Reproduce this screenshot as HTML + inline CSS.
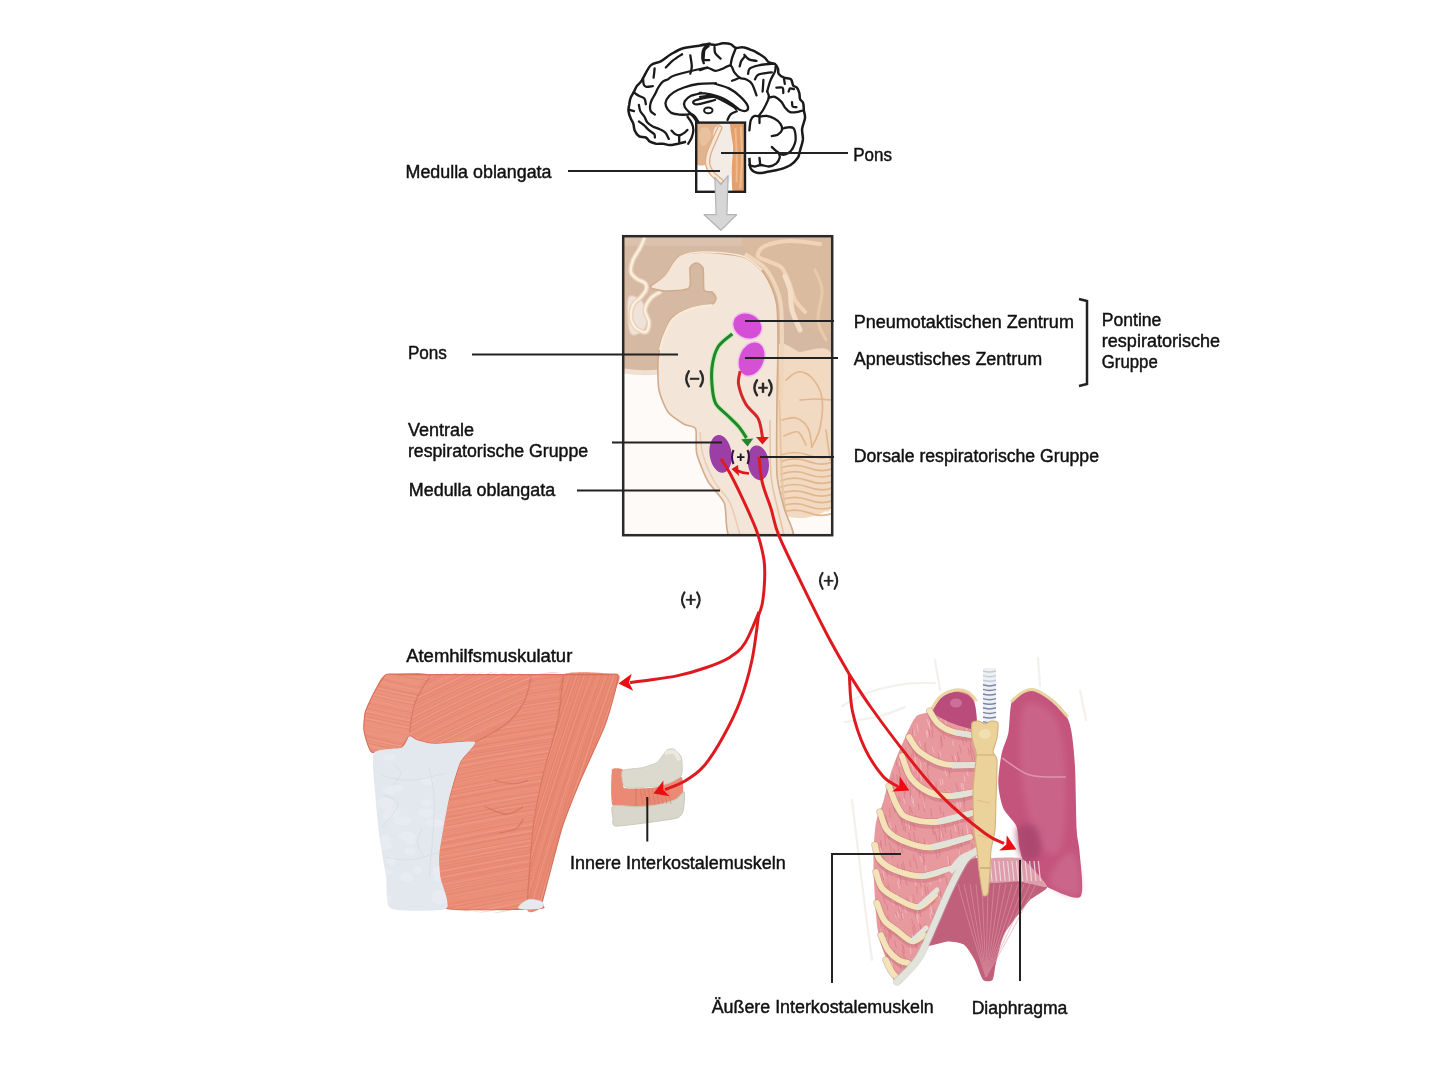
<!DOCTYPE html>
<html><head><meta charset="utf-8">
<style>
html,body{margin:0;padding:0;background:#fff;width:1440px;height:1080px;overflow:hidden}
svg{position:absolute;left:0;top:0;will-change:transform}
text{font-family:"Liberation Sans",sans-serif;fill:#111;stroke:#111;stroke-width:0.45px}
</style></head><body>
<svg width="1440" height="1080" viewBox="0 0 1440 1080">
<path d="M686.1 141.7 C684.7 142.0 680.6 143.2 677.8 143.8 C675.0 144.3 671.9 145.1 669.4 145.1 C667.0 145.1 665.4 144.0 663.2 143.8 C661.0 143.5 658.4 144.1 656.2 143.8 C654.1 143.4 651.7 142.7 650.0 141.7 C648.3 140.6 647.7 138.4 645.8 137.5 C644.0 136.6 640.7 137.3 638.9 136.1 C637.0 135.0 635.6 132.6 634.7 130.6 C633.8 128.5 634.0 125.7 633.3 123.6 C632.6 121.5 631.4 120.1 630.6 118.1 C629.7 116.0 628.7 113.3 628.5 111.1 C628.2 108.9 628.8 107.1 629.2 104.9 C629.5 102.7 629.7 100.1 630.6 97.9 C631.4 95.7 633.0 93.6 634.0 91.7 C635.1 89.7 635.5 88.0 636.8 86.1 C638.1 84.3 639.4 84.0 641.7 80.6 C644.0 77.1 647.4 68.7 650.5 65.5 C653.7 62.3 657.3 63.3 660.7 61.4 C664.1 59.6 667.2 56.5 670.9 54.3 C674.7 52.1 678.7 49.5 683.1 48.2 C687.5 46.8 693.0 46.9 697.4 46.1 C701.8 45.4 709.2 43.7 709.6 43.6 C710.0 43.5 700.3 45.6 700.0 45.6 C699.7 45.7 705.1 44.2 707.6 44.1 C710.2 44.0 712.7 45.0 715.3 44.9 C717.8 44.7 720.4 43.5 722.9 43.3 C725.5 43.2 728.4 43.3 730.6 44.1 C732.7 44.9 733.9 47.4 735.9 47.9 C737.9 48.4 740.1 46.8 742.8 47.2 C745.5 47.5 749.4 49.2 751.9 50.2 C754.5 51.2 755.9 52.0 758.1 53.3 C760.2 54.6 763.2 56.3 764.9 57.9 C766.7 59.4 767.1 61.4 768.8 62.4 C770.4 63.5 773.3 63.0 774.9 64.0 C776.4 65.0 777.3 66.9 777.9 68.6 C778.6 70.2 777.7 72.4 778.7 73.9 C779.7 75.4 782.0 76.8 784.0 77.7 C786.1 78.6 789.4 78.0 790.9 79.3 C792.4 80.5 792.2 84.0 793.2 85.4 C794.2 86.8 796.0 86.4 797.0 87.7 C798.0 88.9 798.8 91.1 799.3 93.0 C799.8 94.9 799.4 97.5 800.1 99.1 C800.7 100.8 802.5 101.0 803.1 102.9 C803.8 104.8 803.6 108.1 803.9 110.6 C804.2 113.1 805.3 115.0 805.0 118.1 C804.7 121.1 802.5 125.3 802.1 128.9 C801.8 132.5 803.2 136.1 802.9 139.7 C802.5 143.4 800.8 147.6 800.0 150.6 C799.1 153.6 799.4 155.4 797.8 157.8 C796.2 160.2 793.6 163.1 790.6 165.0 C787.6 167.0 783.4 168.3 779.7 169.4 C776.1 170.4 772.5 170.9 768.9 171.5 C765.3 172.1 761.1 173.5 758.1 173.0 C755.1 172.5 752.3 171.2 750.8 168.6 C749.4 166.1 749.6 159.6 749.4 157.8" fill="#fff" stroke="#1a1a1a" stroke-width="2.5" stroke-linejoin="round"/>
<path d="M643.1 79.2 C643.2 80.1 643.2 83.4 643.8 84.7 C644.3 86.0 645.0 86.6 646.5 86.8 C648.0 87.0 651.7 86.2 652.8 86.1" fill="none" stroke="#1a1a1a" stroke-width="2.3" stroke-linecap="round" stroke-linejoin="round"/>
<path d="M634.7 93.1 C635.4 93.5 637.3 94.9 638.9 95.8 C640.5 96.8 643.3 97.2 644.4 98.6 C645.6 100.0 645.6 103.2 645.8 104.2" fill="none" stroke="#1a1a1a" stroke-width="2.3" stroke-linecap="round" stroke-linejoin="round"/>
<path d="M629.2 109.7 C630.0 110.0 633.2 110.9 634.0 111.1" fill="none" stroke="#1a1a1a" stroke-width="2.3" stroke-linecap="round" stroke-linejoin="round"/>
<path d="M638.9 104.9 C639.1 105.9 639.4 109.1 640.3 111.1 C641.2 113.1 643.3 114.8 644.4 116.7 C645.6 118.5 645.8 120.6 647.2 122.2 C648.6 123.8 650.7 125.2 652.8 126.4 C654.9 127.5 657.6 128.1 659.7 129.2 C661.8 130.2 663.8 131.0 665.3 132.6 C666.8 134.3 668.2 137.8 668.8 138.9" fill="none" stroke="#1a1a1a" stroke-width="2.3" stroke-linecap="round" stroke-linejoin="round"/>
<path d="M638.9 121.5 C639.7 122.1 642.1 123.6 643.8 125.0 C645.4 126.4 646.9 128.4 648.6 129.9 C650.3 131.4 653.1 132.8 654.2 134.0 C655.2 135.3 654.7 136.9 654.9 137.5" fill="none" stroke="#1a1a1a" stroke-width="2.3" stroke-linecap="round" stroke-linejoin="round"/>
<path d="M697.2 123.6 C696.8 122.7 695.6 119.7 694.4 118.1 C693.3 116.4 691.4 114.5 690.3 113.9 C689.1 113.3 689.4 114.5 687.5 114.6 C685.6 114.7 681.9 114.9 679.2 114.6 C676.4 114.2 673.0 113.9 670.8 112.5 C668.6 111.1 666.7 108.4 666.0 106.2 C665.3 104.1 665.4 101.6 666.7 99.3 C667.9 97.0 670.7 94.3 673.6 92.4 C676.5 90.4 680.0 88.9 684.0 87.5 C688.1 86.1 692.8 84.7 697.9 84.0 C703.1 83.3 712.1 83.4 715.0 83.3 C717.9 83.3 712.9 83.0 715.3 83.8 C717.6 84.7 725.0 86.4 729.0 88.4 C733.1 90.5 736.7 93.3 739.7 96.1 C742.8 98.9 746.2 102.8 747.4 105.2 C748.5 107.6 747.9 109.8 746.6 110.6 C745.3 111.3 742.0 110.8 739.7 109.8 C737.4 108.8 735.7 106.4 732.8 104.5 C730.0 102.6 726.5 100.0 722.9 98.4 C719.4 96.7 715.3 95.4 711.5 94.5 C707.6 93.6 701.7 93.2 700.0 93.0 C698.3 92.8 702.9 92.6 701.4 93.1 C699.9 93.5 693.8 94.4 691.0 95.8 C688.2 97.2 685.8 99.5 684.7 101.4 C683.7 103.2 683.9 105.1 684.7 106.9 C685.5 108.8 688.0 111.0 689.6 112.5 C691.2 114.0 692.9 114.4 694.4 116.0 C695.9 117.6 697.9 121.2 698.6 122.2" fill="none" stroke="#1a1a1a" stroke-width="2.3" stroke-linecap="round" stroke-linejoin="round"/>
<path d="M715.0 96.5 C713.3 96.8 708.3 97.2 704.9 97.9 C701.4 98.6 696.3 99.8 694.4 100.7 C692.6 101.6 693.1 102.9 693.8 103.5 C694.4 104.1 695.1 104.7 698.6 104.2 C702.2 103.6 712.3 100.7 715.0 100.0" fill="none" stroke="#1a1a1a" stroke-width="2.3" stroke-linecap="round" stroke-linejoin="round"/>
<path d="M700.0 96.8 C701.9 96.7 707.6 95.4 711.5 96.1 C715.3 96.7 719.2 98.9 722.9 100.6 C726.6 102.4 731.4 105.4 733.6 106.8 C735.8 108.2 735.5 108.7 735.9 109.0" fill="none" stroke="#1a1a1a" stroke-width="2.3" stroke-linecap="round" stroke-linejoin="round"/>
<path d="M687.5 116.7 C688.2 117.7 690.7 120.7 691.7 122.9 C692.7 125.1 693.4 127.4 693.4 129.9 C693.4 132.3 692.5 135.2 691.7 137.5 C690.8 139.8 688.8 142.7 688.2 143.8" fill="none" stroke="#1a1a1a" stroke-width="2.3" stroke-linecap="round" stroke-linejoin="round"/>
<path d="M671.5 130.6 C672.1 131.1 673.7 133.2 675.0 134.0 C676.3 134.8 677.5 135.6 679.2 135.4 C680.8 135.2 683.3 133.6 684.7 132.6 C686.1 131.7 687.0 130.3 687.5 129.9" fill="none" stroke="#1a1a1a" stroke-width="2.3" stroke-linecap="round" stroke-linejoin="round"/>
<path d="M679.2 135.4 C679.2 136.5 679.2 140.6 679.2 141.7" fill="none" stroke="#1a1a1a" stroke-width="2.3" stroke-linecap="round" stroke-linejoin="round"/>
<path d="M665.8 67.5 C667.0 66.3 670.2 62.6 673.0 60.4 C675.7 58.2 680.6 55.3 682.1 54.3" fill="none" stroke="#1a1a1a" stroke-width="2.3" stroke-linecap="round" stroke-linejoin="round"/>
<path d="M690.3 55.3 C690.5 57.2 691.8 63.5 691.8 66.5 C691.8 69.6 690.5 72.5 690.3 73.6" fill="none" stroke="#1a1a1a" stroke-width="2.3" stroke-linecap="round" stroke-linejoin="round"/>
<path d="M703.5 60.4 C703.7 58.7 703.7 52.6 704.5 50.2 C705.4 47.8 707.9 46.8 708.6 46.1" fill="none" stroke="#1a1a1a" stroke-width="2.3" stroke-linecap="round" stroke-linejoin="round"/>
<path d="M653.6 77.7 C653.8 76.2 654.5 70.1 654.6 68.5" fill="none" stroke="#1a1a1a" stroke-width="2.3" stroke-linecap="round" stroke-linejoin="round"/>
<path d="M654.9 114.6 C654.2 114.0 651.5 112.5 650.7 111.1 C649.9 109.7 649.9 108.0 650.0 106.2 C650.1 104.5 650.6 102.7 651.4 100.7 C652.2 98.7 653.7 96.6 654.9 94.4 C656.0 92.2 657.1 89.6 658.3 87.5 C659.6 85.4 660.9 83.3 662.5 81.9 C664.1 80.6 665.9 80.3 668.1 79.2 C670.3 78.0 669.3 76.9 675.7 75.0 C682.1 73.1 702.5 68.4 706.6 67.5 C710.6 66.7 699.8 70.0 700.0 70.1 C700.2 70.1 705.1 67.7 707.6 67.8 C710.2 67.9 712.7 70.7 715.3 70.8 C717.8 71.0 720.4 69.4 722.9 68.6 C725.5 67.7 728.6 64.9 730.6 65.5 C732.5 66.1 732.8 70.3 734.4 72.4 C735.9 74.4 737.8 76.6 739.7 77.7 C741.6 78.9 743.8 78.2 745.8 79.3 C747.9 80.3 750.2 81.2 751.9 83.8 C753.7 86.5 755.8 93.4 756.5 95.3" fill="none" stroke="#1a1a1a" stroke-width="2.3" stroke-linecap="round" stroke-linejoin="round"/>
<path d="M707.6 44.1 C706.9 45.1 703.9 47.9 703.1 50.2 C702.2 52.5 702.2 55.7 702.3 57.9 C702.4 60.0 703.6 62.3 703.8 63.2" fill="none" stroke="#1a1a1a" stroke-width="2.3" stroke-linecap="round" stroke-linejoin="round"/>
<path d="M704.6 60.2 C705.3 60.2 708.4 60.2 709.2 60.2" fill="none" stroke="#1a1a1a" stroke-width="2.3" stroke-linecap="round" stroke-linejoin="round"/>
<path d="M714.5 47.2 C714.6 48.2 714.3 51.4 715.3 53.3 C716.3 55.2 719.7 57.7 720.6 58.6" fill="none" stroke="#1a1a1a" stroke-width="2.3" stroke-linecap="round" stroke-linejoin="round"/>
<path d="M730.6 65.5 C730.8 64.2 731.2 60.8 732.1 57.9 C733.0 54.9 735.3 49.6 735.9 47.9" fill="none" stroke="#1a1a1a" stroke-width="2.3" stroke-linecap="round" stroke-linejoin="round"/>
<path d="M739.7 77.7 C738.5 78.2 733.4 80.3 732.1 80.8" fill="none" stroke="#1a1a1a" stroke-width="2.3" stroke-linecap="round" stroke-linejoin="round"/>
<path d="M739.7 66.3 C740.0 65.4 740.5 62.4 741.3 60.9 C742.0 59.4 743.8 57.7 744.3 57.1" fill="none" stroke="#1a1a1a" stroke-width="2.3" stroke-linecap="round" stroke-linejoin="round"/>
<path d="M744.3 54.8 C745.1 55.6 746.9 58.4 748.9 59.4 C750.9 60.4 755.3 60.7 756.5 60.9" fill="none" stroke="#1a1a1a" stroke-width="2.3" stroke-linecap="round" stroke-linejoin="round"/>
<path d="M748.1 73.9 C748.4 73.0 748.0 70.0 749.7 68.6 C751.3 67.2 754.9 66.3 758.1 65.5 C761.2 64.7 766.0 64.2 768.8 64.0 C771.6 63.7 773.8 64.0 774.9 64.0" fill="none" stroke="#1a1a1a" stroke-width="2.3" stroke-linecap="round" stroke-linejoin="round"/>
<path d="M755.0 79.3 C755.5 78.5 756.3 75.7 758.1 74.7 C759.8 73.7 763.4 73.5 765.7 73.1 C768.0 72.8 770.8 72.5 771.8 72.4" fill="none" stroke="#1a1a1a" stroke-width="2.3" stroke-linecap="round" stroke-linejoin="round"/>
<path d="M763.4 80.0 C763.3 81.9 762.8 89.6 762.6 91.5" fill="none" stroke="#1a1a1a" stroke-width="2.3" stroke-linecap="round" stroke-linejoin="round"/>
<path d="M767.2 91.5 C767.7 89.7 769.0 84.1 770.3 80.8 C771.6 77.5 774.0 73.9 774.9 71.6 C775.8 69.3 775.5 67.8 775.6 67.0" fill="none" stroke="#1a1a1a" stroke-width="2.3" stroke-linecap="round" stroke-linejoin="round"/>
<path d="M767.2 91.5 C767.5 92.5 769.3 94.7 768.8 97.6 C768.2 100.5 765.5 105.6 763.8 108.7 C762.2 111.7 759.6 114.7 758.8 115.9" fill="none" stroke="#1a1a1a" stroke-width="2.3" stroke-linecap="round" stroke-linejoin="round"/>
<path d="M768.8 97.6 C769.8 97.5 772.8 96.2 774.9 96.8 C776.9 97.5 779.2 99.5 781.0 101.4 C782.8 103.3 784.0 106.5 785.6 108.3 C787.1 110.1 788.4 111.5 790.1 112.1 C791.9 112.7 794.2 112.4 796.3 112.1 C798.3 111.8 801.3 110.8 802.4 110.6" fill="none" stroke="#1a1a1a" stroke-width="2.3" stroke-linecap="round" stroke-linejoin="round"/>
<path d="M776.4 87.7 C777.4 87.7 781.4 86.8 782.5 87.7 C783.7 88.5 783.1 92.1 783.3 93.0" fill="none" stroke="#1a1a1a" stroke-width="2.3" stroke-linecap="round" stroke-linejoin="round"/>
<path d="M784.0 79.3 C784.2 80.0 784.7 83.1 784.8 83.8" fill="none" stroke="#1a1a1a" stroke-width="2.3" stroke-linecap="round" stroke-linejoin="round"/>
<path d="M788.6 91.5 C788.9 91.0 789.3 88.8 790.1 88.4 C791.0 88.0 793.3 89.1 794.0 89.2" fill="none" stroke="#1a1a1a" stroke-width="2.3" stroke-linecap="round" stroke-linejoin="round"/>
<path d="M792.0 102.2 C792.1 102.9 792.0 105.7 792.7 106.5 C793.5 107.3 795.8 107.1 796.4 107.2" fill="none" stroke="#1a1a1a" stroke-width="2.3" stroke-linecap="round" stroke-linejoin="round"/>
<path d="M727.5 120.0 C728.0 119.0 729.0 115.8 730.6 114.4 C732.1 113.0 735.7 111.8 736.7 111.3" fill="none" stroke="#1a1a1a" stroke-width="2.3" stroke-linecap="round" stroke-linejoin="round"/>
<path d="M749.4 130.3 C749.6 128.7 750.0 122.6 750.8 120.2 C751.7 117.8 752.9 116.5 754.5 115.9 C756.0 115.3 758.2 116.6 760.2 116.6 C762.3 116.6 764.3 115.5 766.7 115.9 C769.1 116.3 772.4 117.5 774.7 118.8 C777.0 120.1 779.3 121.9 780.5 123.8 C781.7 125.8 782.4 128.5 781.9 130.3 C781.4 132.2 779.3 133.7 777.6 134.7 C775.9 135.6 772.8 135.9 771.8 136.1" fill="none" stroke="#1a1a1a" stroke-width="2.3" stroke-linecap="round" stroke-linejoin="round"/>
<path d="M759.5 115.9 C759.5 117.1 759.5 121.9 759.5 123.1" fill="none" stroke="#1a1a1a" stroke-width="2.3" stroke-linecap="round" stroke-linejoin="round"/>
<path d="M781.9 128.9 C782.8 128.7 785.0 127.6 787.0 127.5 C788.9 127.3 792.0 126.7 793.5 128.2 C794.9 129.6 795.4 133.6 795.6 136.1 C795.9 138.7 795.8 140.8 794.9 143.4 C794.1 145.9 792.5 149.4 790.6 151.3 C788.7 153.2 785.5 154.8 783.4 154.9 C781.2 155.0 779.5 153.3 777.6 152.0 C775.6 150.7 772.8 147.8 771.8 147.0" fill="none" stroke="#1a1a1a" stroke-width="2.3" stroke-linecap="round" stroke-linejoin="round"/>
<path d="M749.4 165.0 C750.2 165.3 752.5 166.5 754.5 166.5 C756.4 166.5 758.5 165.0 761.0 165.0 C763.4 165.0 766.4 166.7 768.9 166.5 C771.4 166.2 774.3 165.0 776.1 163.6 C777.9 162.1 779.3 159.5 779.7 157.8 C780.2 156.1 779.1 154.2 779.0 153.5" fill="none" stroke="#1a1a1a" stroke-width="2.3" stroke-linecap="round" stroke-linejoin="round"/>
<path d="M759.5 157.8 C759.6 159.0 760.1 163.8 760.2 165.0" fill="none" stroke="#1a1a1a" stroke-width="2.3" stroke-linecap="round" stroke-linejoin="round"/>
<ellipse cx="708.3" cy="110.4" rx="4.2" ry="2.8" fill="none" stroke="#1a1a1a" stroke-width="2"/>
<clipPath id="sbclip"><rect x="696.2" y="122.6" width="48.799999999999955" height="69.20000000000002"/></clipPath>
<rect x="696.2" y="122.6" width="48.799999999999955" height="69.20000000000002" fill="#fff"/>
<g clip-path="url(#sbclip)">
<path d="M696.8 123.2 C699.2 120.5 729.5 122.0 731.7 123.2 C734.0 124.4 731.3 139.8 730.5 141.3 C729.7 142.8 721.1 145.1 719.7 146.1 C718.3 147.1 710.9 154.5 710.1 155.7 C709.3 156.9 708.6 163.6 707.7 164.2 C706.8 164.7 697.6 166.9 696.8 164.2 C696.1 161.4 694.5 126.0 696.8 123.2Z" fill="#e2b38c"/>
<path d="M700.5 129.3 C701.9 127.2 705.9 126.8 707.7 128.1 C709.5 129.3 711.9 133.5 711.3 136.5 C710.7 139.5 706.1 145.5 704.1 146.1 C702.1 146.7 699.9 142.9 699.3 140.1 C698.7 137.3 699.1 131.3 700.5 129.3Z" fill="#eac4a2" opacity="0.8"/>
<path d="M716.1 126.8 C719.1 124.4 727.9 120.4 730.5 125.6 C733.1 130.9 731.9 148.7 731.7 158.1 C731.5 167.6 731.3 177.4 729.3 182.2 C727.3 187.0 722.3 187.8 719.7 187.0 C717.1 186.2 715.3 181.6 713.7 177.4 C712.1 173.2 710.3 168.0 710.1 161.7 C709.9 155.5 711.5 145.9 712.5 140.1 C713.5 134.3 713.1 129.3 716.1 126.8Z" fill="#f3ebe6"/>
<path d="M719.7 128.1 C718.9 129.9 716.7 134.7 714.9 138.9 C713.1 143.1 710.1 149.1 708.9 153.3 C707.7 157.5 707.1 160.7 707.7 164.2 C708.3 167.6 710.3 171.0 712.5 173.8 C714.7 176.6 719.5 179.8 720.9 181.0" stroke="#dcae86" stroke-width="5.5" fill="none" stroke-linecap="round"/>
<path d="M719.7 128.1 C718.9 129.9 716.7 134.7 714.9 138.9 C713.1 143.1 710.1 149.1 708.9 153.3 C707.7 157.5 707.1 160.7 707.7 164.2 C708.3 167.6 710.3 171.0 712.5 173.8 C714.7 176.6 719.5 179.8 720.9 181.0" stroke="#f6e7d8" stroke-width="3" fill="none" stroke-linecap="round"/>
<path d="M730.5 123.8 C731.8 121.6 744.1 117.0 745.6 123.8 C747.1 130.7 746.8 185.6 745.6 192.4 C744.3 199.3 734.3 194.7 732.9 192.4 C731.6 190.2 731.7 174.8 731.7 170.2 C731.7 165.5 733.1 150.7 732.9 146.1 C732.8 141.5 729.3 126.1 730.5 123.8Z" fill="#e5a06b"/>
<path d="M735.4 128.1 C735.6 132.6 736.4 146.1 736.6 155.1 C736.8 164.2 736.6 177.7 736.6 182.2" stroke="#f0c197" stroke-width="2" fill="none" opacity="0.8"/>
<path d="M740.8 126.8 C741.0 132.0 742.1 147.3 742.0 157.5 C741.9 167.8 740.5 183.1 740.2 188.2" stroke="#f0c197" stroke-width="2" fill="none" opacity="0.8"/>
</g>
<rect x="696.2" y="122.6" width="48.799999999999955" height="69.20000000000002" fill="none" stroke="#1e1e1e" stroke-width="2.4"/>
<path d="M714.9 177.4 L720.9 184.6 L728.1 175.6 L726.9 214.7 L736.6 214.7 L720.9 230.3 L704.1 214.7 L716.1 214.7Z" fill="#d6d6d6" stroke="#b4b4b4" stroke-width="1.2" stroke-linejoin="round"/>
<clipPath id="bclip"><rect x="624" y="237" width="208" height="298"/></clipPath>
<g clip-path="url(#bclip)">
<rect x="624" y="237" width="208" height="298" fill="#d6b9a3"/>
<rect x="624" y="237" width="208" height="9" fill="#dcc2ad"/>
<path d="M745.0 237.0 C757.0 232.3 817.5 221.5 832.0 237.0 C846.5 252.5 837.3 316.2 832.0 330.0 C826.7 343.8 808.7 325.0 800.0 320.0 C791.3 315.0 786.7 309.2 780.0 300.0 C773.3 290.8 765.8 275.5 760.0 265.0 C754.2 254.5 733.0 241.7 745.0 237.0Z" fill="#dbbb9f"/>
<path d="M624.0 372.0 L700.0 372.0 L705.0 420.0 L740.0 535.0 L624.0 535.0Z" fill="#fdfaf7"/>
<path d="M624 371 Q640 374 660 372" stroke="#efe0d2" stroke-width="5" fill="none"/>
<rect x="785" y="505" width="50" height="32" fill="#fdfaf7"/>
<path d="M628.0 298.0 C629.8 292.5 637.8 297.2 641.0 300.0 C644.2 302.8 646.5 310.0 647.0 315.0 C647.5 320.0 646.8 327.0 644.0 330.0 C641.2 333.0 632.7 338.3 630.0 333.0 C627.3 327.7 626.2 303.5 628.0 298.0Z" fill="#efe2d8" stroke="#e2c7ae" stroke-width="1.5"/>
<path d="M644.4 238.0 C643.7 239.7 641.9 244.3 640.0 248.0 C638.1 251.7 634.5 256.0 633.0 260.0 C631.5 264.0 630.3 268.8 631.0 272.0 C631.7 275.2 634.7 277.2 637.0 279.0 C639.3 280.8 643.5 281.2 645.0 283.0 C646.5 284.8 646.8 287.5 646.0 290.0 C645.2 292.5 642.2 295.5 640.0 298.0 C637.8 300.5 634.5 301.7 633.0 305.0 C631.5 308.3 630.5 314.2 631.0 318.0 C631.5 321.8 633.5 325.7 636.0 328.0 C638.5 330.3 643.8 333.0 646.0 332.0 C648.2 331.0 649.2 325.7 649.0 322.0 C648.8 318.3 644.7 314.0 645.0 310.0 C645.3 306.0 648.5 301.0 651.0 298.0 C653.5 295.0 658.5 293.0 660.0 292.0" stroke="#ead2bb" stroke-width="5" fill="none" stroke-linecap="round"/>
<path d="M644.4 238.0 C643.7 239.7 641.9 244.3 640.0 248.0 C638.1 251.7 634.5 256.0 633.0 260.0 C631.5 264.0 630.3 268.8 631.0 272.0 C631.7 275.2 634.7 277.2 637.0 279.0 C639.3 280.8 643.5 281.2 645.0 283.0 C646.5 284.8 646.8 287.5 646.0 290.0 C645.2 292.5 642.2 295.5 640.0 298.0 C637.8 300.5 634.5 301.7 633.0 305.0 C631.5 308.3 630.5 314.2 631.0 318.0 C631.5 321.8 633.5 325.7 636.0 328.0 C638.5 330.3 643.8 333.0 646.0 332.0 C648.2 331.0 649.2 325.7 649.0 322.0 C648.8 318.3 644.7 314.0 645.0 310.0 C645.3 306.0 648.5 301.0 651.0 298.0 C653.5 295.0 658.5 293.0 660.0 292.0" stroke="#fbf0e2" stroke-width="2.2" fill="none" stroke-linecap="round"/>
<path d="M820.0 244.0 C815.0 243.5 799.2 240.7 790.0 241.0 C780.8 241.3 770.3 243.5 765.0 246.0 C759.7 248.5 757.2 253.3 758.0 256.0 C758.8 258.7 766.0 260.0 770.0 262.0 C774.0 264.0 778.7 264.2 782.0 268.0 C785.3 271.8 787.8 279.7 790.0 285.0 C792.2 290.3 792.5 295.5 795.0 300.0 C797.5 304.5 803.3 310.0 805.0 312.0" stroke="#f0d4b5" stroke-width="4" fill="none" stroke-linecap="round"/>
<path d="M785.0 276.0 C785.8 278.3 788.8 284.3 790.0 290.0 C791.2 295.7 790.3 303.3 792.0 310.0 C793.7 316.7 798.7 326.7 800.0 330.0" stroke="#f3dfc9" stroke-width="5" fill="none" stroke-linecap="round"/>
<path d="M815.0 270.0 C816.2 273.3 821.5 281.7 822.0 290.0 C822.5 298.3 817.3 311.7 818.0 320.0 C818.7 328.3 824.7 336.7 826.0 340.0" stroke="#e9c9a8" stroke-width="3" fill="none" stroke-linecap="round"/>
<path d="M776.0 350.0 C778.2 334.7 794.4 351.4 800.0 352.0 C805.6 352.6 828.8 341.2 832.0 356.0 C835.2 370.8 832.8 484.4 832.0 500.0 C831.2 515.6 826.8 510.2 824.0 512.0 C821.2 513.8 807.8 517.6 804.0 518.0 C800.2 518.4 788.6 517.3 786.0 516.0 C783.4 514.7 779.0 521.6 778.0 505.0 C777.0 488.4 773.8 365.3 776.0 350.0Z" fill="#f1dac1"/>
<g stroke="#e2b78e" stroke-width="1.7" fill="none" stroke-linecap="round">
<path d="M781 455.0 Q795 450.0 808 455.0 T832 456.0"/>
<path d="M781 461.4 Q795 456.4 808 461.4 T832 462.4"/>
<path d="M781 467.8 Q795 462.8 808 467.8 T832 468.8"/>
<path d="M781 474.2 Q795 469.2 808 474.2 T832 475.2"/>
<path d="M781 480.6 Q795 475.6 808 480.6 T832 481.6"/>
<path d="M781 487.0 Q795 482.0 808 487.0 T832 488.0"/>
<path d="M781 493.4 Q795 488.4 808 493.4 T832 494.4"/>
<path d="M781 499.8 Q795 494.8 808 499.8 T832 500.8"/>
<path d="M781 506.2 Q795 501.2 808 506.2 T832 507.2"/>
<path d="M781 512.6 Q795 507.6 808 512.6 T832 513.6"/>
<path d="M786.0 380.0 C788.0 378.7 793.7 372.3 798.0 372.0 C802.3 371.7 808.0 373.7 812.0 378.0 C816.0 382.3 820.7 389.7 822.0 398.0 C823.3 406.3 821.7 419.8 820.0 428.0 C818.3 436.2 813.3 443.8 812.0 447.0"/>
<path d="M800.0 400.0 C802.5 399.8 809.7 399.0 815.0 399.0 C820.3 399.0 829.2 399.8 832.0 400.0"/>
<path d="M782.0 420.0 C784.3 419.7 791.7 416.7 796.0 418.0 C800.3 419.3 805.3 423.2 808.0 428.0 C810.7 432.8 811.3 443.8 812.0 447.0"/>
<path d="M784.0 436.0 C786.3 435.3 794.3 430.5 798.0 432.0 C801.7 433.5 804.7 442.8 806.0 445.0"/>
<path d="M826.0 430.0 C826.7 435.0 829.3 455.0 830.0 460.0"/>
</g>
<path d="M778.0 360.0 C778.3 370.0 779.3 400.0 780.0 420.0 C780.7 440.0 781.0 464.0 782.0 480.0 C783.0 496.0 785.3 510.0 786.0 516.0" stroke="#e8c6a3" stroke-width="2" fill="none"/>
<path d="M745.0 254.0 C748.3 256.3 759.8 262.5 765.0 268.0 C770.2 273.5 773.3 280.7 776.0 287.0 C778.7 293.3 780.0 296.2 781.0 306.0 C782.0 315.8 782.0 330.3 782.0 346.0 C782.0 361.7 781.2 391.0 781.0 400.0" stroke="#efd5b9" stroke-width="4" fill="none"/>
<path d="M650.5 287.0 C650.5 285.3 661.5 280.4 664.8 276.8 C668.1 273.2 674.5 259.3 679.0 256.4 C683.5 253.5 696.1 252.3 703.5 252.3 C710.9 252.3 735.9 254.7 742.7 256.8 C749.5 258.9 758.0 266.7 761.4 270.3 C764.8 273.9 770.0 283.7 771.8 287.9 C773.6 292.1 776.3 299.8 777.0 306.6 C777.7 313.4 778.0 335.1 778.0 346.0 C778.0 356.9 777.1 384.9 777.0 400.0 C776.9 415.1 776.1 462.3 777.0 475.0 C777.9 487.7 782.6 501.3 784.4 508.9 C786.1 516.5 798.1 536.4 792.0 540.0 C785.9 543.6 739.9 544.3 732.0 540.0 C724.1 535.7 727.2 510.2 724.4 503.3 C721.6 496.4 711.0 486.9 707.8 481.1 C704.6 475.3 698.1 459.4 696.7 453.3 C695.3 447.2 697.1 432.3 695.6 428.9 C694.1 425.5 687.4 426.3 684.2 424.3 C681.0 422.3 670.9 416.0 668.0 412.0 C665.1 408.0 660.2 396.1 659.0 390.0 C657.8 383.9 657.6 366.1 658.0 360.0 C658.4 353.9 660.4 342.9 662.0 338.0 C663.6 333.1 668.7 321.5 672.0 318.0 C675.3 314.5 685.3 309.6 690.0 308.0 C694.7 306.4 709.0 305.2 712.0 304.0 C715.0 302.8 716.0 299.4 716.0 298.0 C716.0 296.6 713.4 292.9 712.0 292.0 C710.6 291.1 705.0 292.8 704.0 290.0 C703.0 287.2 703.9 271.1 703.0 268.0 C702.1 264.9 697.5 263.0 696.0 263.0 C694.5 263.0 690.8 265.1 690.0 268.0 C689.2 270.9 691.9 285.3 689.0 288.0 C686.1 290.7 669.5 291.1 665.0 291.0 C660.5 290.9 650.5 288.7 650.5 287.0Z" fill="#f3e5d7" stroke="#d2ab8b" stroke-width="1.6"/>
<path d="M700.0 432.0 C700.5 435.8 700.7 446.8 703.0 455.0 C705.3 463.2 709.5 473.0 714.0 481.0 C718.5 489.0 725.7 494.0 730.0 503.0 C734.3 512.0 738.3 529.7 740.0 535.0" stroke="#e8cdb3" stroke-width="1.5" fill="none"/>
<path d="M770.0 420.0 C770.2 429.2 769.7 460.0 771.0 475.0 C772.3 490.0 775.8 500.0 778.0 510.0 C780.2 520.0 783.0 530.8 784.0 535.0" stroke="#e3c3a3" stroke-width="1.5" fill="none"/>
<path d="M660.0 350.0 C660.7 347.7 661.8 341.2 664.0 336.0 C666.2 330.8 668.7 323.5 673.0 319.0 C677.3 314.5 683.5 311.3 690.0 309.0 C696.5 306.7 708.3 305.7 712.0 305.0" stroke="#f9ebd8" stroke-width="2.2" fill="none"/>
<path d="M652.0 287.0 C654.3 285.2 661.3 281.0 666.0 276.0 C670.7 271.0 673.8 261.0 680.0 257.0 C686.2 253.0 692.7 252.2 703.0 252.0 C713.3 251.8 732.2 253.0 742.0 256.0 C751.8 259.0 758.7 267.7 762.0 270.0" stroke="#f7e6d2" stroke-width="1.6" fill="none"/>
</g>
<rect x="623.2" y="236.2" width="209" height="299" fill="none" stroke="#2a2a2a" stroke-width="2.5"/>
<ellipse cx="747.4" cy="326" rx="16" ry="13.5" transform="rotate(28 747.4 326)" fill="#f3b8f0" opacity="0.8"/>
<ellipse cx="747.4" cy="326" rx="14.5" ry="12" transform="rotate(28 747.4 326)" fill="#d54fd6"/>
<ellipse cx="751.6" cy="359" rx="13.5" ry="18.5" transform="rotate(22 751.6 359)" fill="#f3b8f0" opacity="0.8"/>
<ellipse cx="751.6" cy="359" rx="12" ry="17.2" transform="rotate(22 751.6 359)" fill="#d451d5"/>
<ellipse cx="720.6" cy="453.9" rx="11" ry="19" transform="rotate(-8 720.6 453.9)" fill="#9b3ea6"/>
<ellipse cx="758.3" cy="462.8" rx="10.5" ry="17.5" transform="rotate(-8 758.3 462.8)" fill="#9d40a8"/>
<path d="M732.3 333.9 C729.9 336.1 721.4 341.4 718.0 347.0 C714.6 352.6 712.9 360.3 712.0 367.5 C711.1 374.7 711.8 383.9 712.5 390.0 C713.2 396.1 713.6 399.8 716.0 404.0 C718.4 408.2 723.2 411.2 727.0 415.0 C730.8 418.8 735.8 423.2 739.0 427.0 C742.2 430.8 745.2 436.2 746.5 438.0" stroke="#b8f0b0" stroke-width="5" fill="none"/>
<path d="M732.3 333.9 C729.9 336.1 721.4 341.4 718.0 347.0 C714.6 352.6 712.9 360.3 712.0 367.5 C711.1 374.7 711.8 383.9 712.5 390.0 C713.2 396.1 713.6 399.8 716.0 404.0 C718.4 408.2 723.2 411.2 727.0 415.0 C730.8 418.8 735.8 423.2 739.0 427.0 C742.2 430.8 745.2 436.2 746.5 438.0" stroke="#23862a" stroke-width="3" fill="none"/>
<path d="M741.2 439.2 L753.3 438.6 L747.6 446.5Z" fill="#23862a"/>
<path d="M740.1 371.1 C739.9 373.4 737.6 379.1 738.6 384.6 C739.6 390.1 742.6 398.6 745.9 404.3 C749.2 410.0 755.5 413.2 758.3 418.8 C761.1 424.4 761.9 434.8 762.6 438.0" stroke="#d6262a" stroke-width="3" fill="none"/>
<path d="M756.0 437.0 L769.0 437.0 L762.5 444.5Z" fill="#e3141a"/>
<path d="M749 473.5 Q742 473 737 470.5" stroke="#e0141a" stroke-width="2.6" fill="none"/>
<path d="M738.0 465.0 L739.0 476.0 L731.5 469.0Z" fill="#e3141a"/>
<path d="M733.5 450 Q730.5 457 733.5 464" stroke="#3a1040" stroke-width="2" fill="none"/>
<path d="M747.5 450 Q750.5 457 747.5 464" stroke="#3a1040" stroke-width="2" fill="none"/>
<path d="M737 457.2 H744.5 M740.7 453.5 V461" stroke="#1a1a1a" stroke-width="1.8" fill="none"/>
<path d="M385.9 674.6 C388.0 673.2 390.1 674.6 400.0 674.6 C409.9 674.6 487.8 674.6 505.0 674.6 C522.2 674.6 596.9 674.6 606.3 674.6 C615.6 674.6 616.7 673.3 617.5 674.6 C618.3 675.8 616.7 685.0 615.6 689.4 C614.5 693.7 607.4 719.2 604.4 726.9 C601.4 734.5 583.6 772.8 580.0 781.3 C576.5 789.7 565.0 818.6 561.8 828.5 C558.7 838.5 544.4 894.1 542.6 900.7 C540.8 907.4 548.2 907.8 540.2 908.4 C532.2 909.1 454.7 911.1 446.3 908.4 C437.9 905.8 440.2 881.3 439.6 876.7 C439.0 872.0 438.5 858.2 439.1 852.6 C439.6 847.0 444.5 816.8 446.3 809.3 C448.0 801.7 457.6 768.1 460.0 762.5 C462.4 756.9 477.2 743.4 475.0 741.9 C472.8 740.3 438.6 743.9 433.8 743.8 C428.9 743.6 418.9 740.6 416.9 740.0 C414.8 739.4 410.6 735.6 409.4 736.3 C408.1 736.9 405.0 746.2 401.9 747.5 C398.8 748.8 375.0 753.6 371.9 752.2 C368.7 750.8 364.5 734.0 364.0 730.6 C363.5 727.3 364.4 715.2 365.3 711.9 C366.2 708.6 373.0 694.4 374.7 691.3 C376.4 688.1 383.8 676.0 385.9 674.6Z" fill="#eb8f79"/>
<path d="M385.9 674.6 C391.5 672.9 427.1 671.8 430.0 674.6 C432.9 677.4 417.1 696.3 415.0 702.5 C412.9 708.7 410.7 731.8 409.4 736.3 C408.1 740.8 405.6 745.9 401.9 747.5 C398.1 749.1 375.7 753.9 371.9 752.2 C368.1 750.5 364.7 734.7 364.0 730.6 C363.3 726.6 364.2 715.8 365.3 711.9 C366.4 707.9 372.6 695.0 374.7 691.3 C376.8 687.5 380.4 676.2 385.9 674.6Z" fill="#ec937d"/>
<path d="M563.1 674.6 C569.1 669.9 612.3 673.1 617.5 674.6 C622.8 676.0 617.0 684.1 615.6 689.4 C614.3 694.6 608.0 717.7 604.4 726.9 C600.8 736.1 584.3 771.1 580.0 781.3 C575.8 791.4 565.6 816.6 561.8 828.5 C558.1 840.5 544.8 892.7 542.6 900.7 C540.4 908.7 541.7 907.7 540.2 908.4 C538.6 909.2 527.7 916.4 526.9 908.4 C526.2 900.4 531.4 841.6 533.0 828.5 C534.5 815.4 540.1 788.2 542.5 777.5 C545.0 766.8 555.5 731.5 557.5 721.3 C559.6 711.0 557.1 679.2 563.1 674.6Z" fill="#e98a74"/>
<clipPath id="mf1"><path d="M385.9 674.6 C391.5 672.9 427.1 671.8 430.0 674.6 C432.9 677.4 417.1 696.3 415.0 702.5 C412.9 708.7 410.7 731.8 409.4 736.3 C408.1 740.8 405.6 745.9 401.9 747.5 C398.1 749.1 375.7 753.9 371.9 752.2 C368.1 750.5 364.7 734.7 364.0 730.6 C363.3 726.6 364.2 715.8 365.3 711.9 C366.4 707.9 372.6 695.0 374.7 691.3 C376.8 687.5 380.4 676.2 385.9 674.6Z"/></clipPath>
<g clip-path="url(#mf1)" stroke="#d5725e" stroke-width="0.9" fill="none" opacity="0.3">
<path d="M348.6 639.3 Q410.0 656.7 473.0 665.7"/>
<path d="M347.8 642.8 Q409.7 658.4 472.2 669.3"/>
<path d="M347.3 645.3 Q410.5 662.0 471.7 671.7"/>
<path d="M346.6 648.7 Q410.7 666.7 471.0 675.1"/>
<path d="M345.8 652.5 Q406.8 671.5 470.2 678.9"/>
<path d="M345.3 654.8 Q407.2 675.2 469.7 681.3"/>
<path d="M344.5 658.4 Q407.1 677.6 468.9 684.8"/>
<path d="M344.0 661.0 Q406.7 679.7 468.4 687.4"/>
<path d="M343.3 664.4 Q401.6 684.8 467.6 690.8"/>
<path d="M342.5 667.7 Q405.0 688.2 466.9 694.2"/>
<path d="M341.8 671.1 Q405.5 688.7 466.2 697.6"/>
<path d="M341.1 674.4 Q401.9 695.2 465.5 700.8"/>
<path d="M340.5 677.6 Q399.2 693.6 464.8 704.0"/>
<path d="M340.0 680.0 Q403.9 697.8 464.3 706.4"/>
<path d="M339.2 683.6 Q399.1 701.8 463.6 710.0"/>
<path d="M338.6 686.4 Q398.8 705.1 463.0 712.8"/>
<path d="M337.9 689.8 Q401.4 709.1 462.2 716.2"/>
<path d="M337.1 693.3 Q400.4 714.4 461.5 719.7"/>
<path d="M336.5 696.1 Q395.6 716.5 460.9 722.6"/>
<path d="M335.8 699.6 Q399.3 718.2 460.1 726.0"/>
<path d="M335.2 702.4 Q394.6 722.6 459.5 728.9"/>
<path d="M334.5 705.4 Q394.4 721.0 458.9 731.8"/>
<path d="M333.8 708.9 Q397.9 724.6 458.2 735.3"/>
<path d="M333.2 711.9 Q393.7 728.0 457.5 738.4"/>
<path d="M332.6 714.5 Q395.4 734.9 457.0 740.9"/>
<path d="M332.0 717.3 Q393.8 732.8 456.4 743.7"/>
<path d="M331.2 721.2 Q391.3 741.7 455.6 747.7"/>
<path d="M330.4 724.7 Q391.6 745.9 454.8 751.1"/>
<path d="M329.9 727.0 Q388.5 745.8 454.3 753.4"/>
<path d="M329.4 729.8 Q388.7 747.5 453.7 756.3"/>
<path d="M328.5 733.6 Q387.6 749.1 452.9 760.1"/>
<path d="M327.8 737.1 Q387.8 758.0 452.2 763.5"/>
<path d="M327.1 740.2 Q387.5 758.2 451.5 766.7"/>
<path d="M326.6 742.9 Q388.6 761.7 450.9 769.3"/>
<path d="M325.9 746.1 Q387.7 766.9 450.3 772.5"/>
<path d="M325.2 749.2 Q386.0 768.7 449.6 775.6"/>
<path d="M324.6 752.0 Q384.6 773.0 449.0 778.4"/>
<path d="M323.9 755.4 Q385.3 770.7 448.3 781.9"/>
<path d="M323.3 758.4 Q384.9 773.8 447.6 784.9"/>
</g>
<clipPath id="mf2"><path d="M385.9 674.6 C391.5 672.9 427.1 671.8 430.0 674.6 C432.9 677.4 417.1 696.3 415.0 702.5 C412.9 708.7 410.7 731.8 409.4 736.3 C408.1 740.8 405.6 745.9 401.9 747.5 C398.1 749.1 375.7 753.9 371.9 752.2 C368.1 750.5 364.7 734.7 364.0 730.6 C363.3 726.6 364.2 715.8 365.3 711.9 C366.4 707.9 372.6 695.0 374.7 691.3 C376.8 687.5 380.4 676.2 385.9 674.6Z"/></clipPath>
<g clip-path="url(#mf2)" stroke="#f7b29c" stroke-width="1.1" fill="none" opacity="0.35">
<path d="M348.5 639.7 Q410.4 655.3 472.9 666.2"/>
<path d="M347.1 646.1 Q408.1 665.4 471.5 672.5"/>
<path d="M345.9 652.1 Q408.2 671.8 470.2 678.6"/>
<path d="M344.6 658.1 Q403.1 677.4 469.0 684.5"/>
<path d="M343.0 665.6 Q402.6 683.5 467.4 692.0"/>
<path d="M341.8 671.5 Q401.8 688.9 466.1 697.9"/>
<path d="M340.5 677.5 Q400.8 696.3 464.8 704.0"/>
<path d="M339.1 683.9 Q399.5 703.7 463.5 710.3"/>
<path d="M337.8 689.9 Q399.4 709.5 462.2 716.3"/>
<path d="M336.4 696.6 Q395.9 716.6 460.8 723.0"/>
<path d="M335.1 702.9 Q394.3 720.7 459.5 729.3"/>
<path d="M333.6 709.8 Q392.4 726.9 458.0 736.2"/>
<path d="M332.4 715.7 Q395.5 733.5 456.7 742.1"/>
<path d="M330.9 722.7 Q390.0 739.9 455.2 749.1"/>
<path d="M329.6 728.8 Q393.0 746.7 453.9 755.2"/>
<path d="M328.3 734.6 Q387.2 753.0 452.7 761.1"/>
<path d="M327.0 741.0 Q390.0 761.2 451.4 767.4"/>
<path d="M325.6 747.3 Q385.4 767.3 450.0 773.7"/>
<path d="M324.2 754.2 Q387.1 771.5 448.5 780.6"/>
</g>
<clipPath id="mf3"><path d="M430.0 674.6 C441.6 671.8 521.9 671.8 531.3 674.6 C540.6 677.4 526.4 697.5 523.8 702.5 C521.1 707.5 509.9 721.1 505.0 725.0 C500.1 728.9 482.1 740.0 475.0 741.9 C467.9 743.8 439.6 743.9 433.8 743.8 C427.9 743.6 419.3 740.8 416.9 740.0 C414.4 739.3 409.6 740.0 409.4 736.3 C409.2 732.5 412.9 708.7 415.0 702.5 C417.1 696.3 418.4 677.4 430.0 674.6Z"/></clipPath>
<g clip-path="url(#mf3)" stroke="#d5725e" stroke-width="0.9" fill="none" opacity="0.3">
<path d="M578.3 749.7 Q501.6 782.2 430.9 818.5"/>
<path d="M576.8 746.7 Q500.5 776.9 429.4 815.4"/>
<path d="M575.4 743.6 Q499.4 776.8 428.0 812.4"/>
<path d="M574.2 741.0 Q495.8 774.4 426.8 809.7"/>
<path d="M572.5 737.3 Q500.0 767.6 425.1 806.1"/>
<path d="M571.1 734.3 Q498.2 763.4 423.7 803.1"/>
<path d="M569.8 731.7 Q496.4 763.3 422.4 800.4"/>
<path d="M568.6 729.0 Q491.9 758.7 421.2 797.7"/>
<path d="M567.4 726.4 Q489.4 757.6 420.0 795.2"/>
<path d="M566.0 723.5 Q492.4 751.4 418.6 792.2"/>
<path d="M564.3 719.9 Q490.1 753.1 416.9 788.6"/>
<path d="M563.0 717.0 Q490.0 748.1 415.6 785.7"/>
<path d="M562.1 715.1 Q488.1 743.8 414.7 783.8"/>
<path d="M560.6 711.8 Q486.1 742.7 413.2 780.6"/>
<path d="M559.2 708.8 Q486.4 740.2 411.8 777.6"/>
<path d="M557.9 706.0 Q481.0 738.9 410.5 774.7"/>
<path d="M556.4 703.0 Q482.7 732.8 409.0 771.7"/>
<path d="M555.2 700.4 Q480.0 732.9 407.8 769.1"/>
<path d="M553.9 697.5 Q480.2 730.7 406.5 766.2"/>
<path d="M552.2 693.9 Q478.7 721.6 404.8 762.6"/>
<path d="M551.0 691.2 Q477.7 719.2 403.6 759.9"/>
<path d="M549.8 688.7 Q473.0 719.5 402.4 757.4"/>
<path d="M548.4 685.6 Q472.8 718.0 401.0 754.4"/>
<path d="M547.2 683.2 Q469.1 711.6 399.8 751.9"/>
<path d="M545.8 680.1 Q467.8 713.7 398.4 748.9"/>
<path d="M544.1 676.4 Q466.2 707.1 396.7 745.2"/>
<path d="M543.0 674.1 Q466.5 703.9 395.6 742.9"/>
<path d="M541.5 670.9 Q466.6 700.7 394.1 739.6"/>
<path d="M540.4 668.5 Q463.9 696.9 393.0 737.2"/>
<path d="M538.8 665.2 Q464.7 695.1 391.4 733.9"/>
<path d="M537.7 662.8 Q460.4 692.7 390.3 731.5"/>
<path d="M536.1 659.3 Q462.4 689.3 388.7 728.1"/>
<path d="M534.6 656.2 Q460.0 686.5 387.2 724.9"/>
<path d="M533.5 653.8 Q458.1 685.7 386.1 722.5"/>
<path d="M532.1 650.8 Q457.9 681.3 384.7 719.6"/>
<path d="M530.9 648.1 Q455.7 680.0 383.5 716.8"/>
<path d="M529.6 645.4 Q453.7 675.6 382.2 714.1"/>
<path d="M527.8 641.6 Q455.0 671.5 380.4 710.4"/>
<path d="M526.5 638.7 Q452.8 668.0 379.1 707.4"/>
<path d="M525.3 636.3 Q447.7 668.8 377.9 705.0"/>
<path d="M523.9 633.2 Q450.8 665.6 376.5 701.9"/>
<path d="M522.5 630.2 Q448.5 661.3 375.1 699.0"/>
<path d="M521.5 628.0 Q446.6 655.7 374.1 696.7"/>
<path d="M520.1 625.0 Q446.3 653.0 372.7 693.8"/>
<path d="M518.8 622.2 Q440.9 655.1 371.4 690.9"/>
<path d="M517.4 619.2 Q439.1 651.9 370.0 687.9"/>
<path d="M516.1 616.3 Q442.7 648.1 368.6 685.1"/>
<path d="M514.3 612.7 Q441.6 643.8 366.9 681.4"/>
<path d="M513.0 609.8 Q434.8 642.1 365.6 678.5"/>
<path d="M511.8 607.2 Q437.7 635.5 364.4 675.9"/>
</g>
<clipPath id="mf4"><path d="M430.0 674.6 C441.6 671.8 521.9 671.8 531.3 674.6 C540.6 677.4 526.4 697.5 523.8 702.5 C521.1 707.5 509.9 721.1 505.0 725.0 C500.1 728.9 482.1 740.0 475.0 741.9 C467.9 743.8 439.6 743.9 433.8 743.8 C427.9 743.6 419.3 740.8 416.9 740.0 C414.4 739.3 409.6 740.0 409.4 736.3 C409.2 732.5 412.9 708.7 415.0 702.5 C417.1 696.3 418.4 677.4 430.0 674.6Z"/></clipPath>
<g clip-path="url(#mf4)" stroke="#f7b29c" stroke-width="1.1" fill="none" opacity="0.35">
<path d="M577.9 749.1 Q505.1 777.1 430.5 817.8"/>
<path d="M575.2 743.2 Q500.2 775.8 427.8 811.9"/>
<path d="M572.3 736.9 Q494.9 766.1 424.9 805.7"/>
<path d="M569.1 730.2 Q495.2 760.2 421.7 798.9"/>
<path d="M566.3 724.1 Q490.3 753.9 418.9 792.8"/>
<path d="M563.3 717.7 Q485.4 748.4 415.9 786.4"/>
<path d="M560.1 710.8 Q484.1 742.9 412.7 779.5"/>
<path d="M557.5 705.3 Q483.3 737.5 410.1 774.0"/>
<path d="M554.3 698.4 Q479.0 729.0 406.9 767.1"/>
<path d="M551.4 692.1 Q478.3 720.7 404.0 760.8"/>
<path d="M548.7 686.3 Q474.8 719.5 401.3 755.1"/>
<path d="M545.5 679.5 Q469.8 711.5 398.1 748.3"/>
<path d="M542.7 673.5 Q465.9 702.4 395.3 742.3"/>
<path d="M539.6 666.8 Q463.0 695.8 392.2 735.5"/>
<path d="M536.6 660.3 Q463.9 689.8 389.2 729.0"/>
<path d="M533.6 653.9 Q457.6 686.8 386.2 722.7"/>
<path d="M530.7 647.7 Q453.9 676.7 383.3 716.5"/>
<path d="M528.0 642.0 Q452.5 672.0 380.6 710.7"/>
<path d="M525.0 635.5 Q448.7 665.1 377.6 704.2"/>
<path d="M521.7 628.5 Q444.2 662.1 374.3 697.2"/>
<path d="M518.9 622.5 Q444.1 653.0 371.5 691.2"/>
<path d="M515.8 615.7 Q442.3 646.8 368.4 684.5"/>
<path d="M513.0 609.8 Q438.9 642.6 365.6 678.5"/>
</g>
<clipPath id="mf5"><path d="M531.3 674.6 C535.2 671.8 560.5 669.9 563.1 674.6 C565.8 679.2 559.6 711.0 557.5 721.3 C555.5 731.5 545.0 766.8 542.5 777.5 C540.1 788.2 534.5 815.4 533.0 828.5 C531.4 841.6 535.6 900.4 526.9 908.4 C518.3 916.4 455.0 911.6 446.3 908.4 C437.6 905.3 440.3 882.2 439.6 876.7 C438.8 871.1 438.4 859.3 439.1 852.6 C439.7 845.8 444.2 818.3 446.3 809.3 C448.4 800.2 457.1 769.2 460.0 762.5 C462.9 755.8 470.5 745.6 475.0 741.9 C479.5 738.1 500.1 728.9 505.0 725.0 C509.9 721.1 521.1 707.5 523.8 702.5 C526.4 697.5 527.3 677.4 531.3 674.6Z"/></clipPath>
<g clip-path="url(#mf5)" stroke="#d5725e" stroke-width="0.9" fill="none" opacity="0.32">
<path d="M662.8 905.9 Q522.7 925.9 381.8 955.4"/>
<path d="M662.2 902.4 Q518.0 916.7 381.2 952.0"/>
<path d="M661.6 898.8 Q521.0 918.8 380.5 948.3"/>
<path d="M660.9 895.3 Q516.9 909.1 379.9 944.8"/>
<path d="M660.5 892.6 Q516.0 910.6 379.5 942.2"/>
<path d="M659.8 888.6 Q521.0 903.0 378.7 938.1"/>
<path d="M659.2 885.2 Q515.7 900.9 378.1 934.8"/>
<path d="M658.6 882.0 Q513.3 895.1 377.6 931.6"/>
<path d="M658.0 878.6 Q514.3 893.8 377.0 928.1"/>
<path d="M657.5 875.5 Q516.9 887.9 376.4 925.1"/>
<path d="M656.9 872.4 Q514.4 888.7 375.9 922.0"/>
<path d="M656.4 869.2 Q515.0 889.2 375.3 918.8"/>
<path d="M655.7 865.7 Q514.1 879.0 374.7 915.2"/>
<path d="M655.2 862.5 Q514.5 875.7 374.1 912.0"/>
<path d="M654.4 858.4 Q515.7 871.5 373.4 908.0"/>
<path d="M653.8 855.0 Q510.8 873.5 372.8 904.5"/>
<path d="M653.3 851.9 Q509.7 869.6 372.3 901.4"/>
<path d="M652.7 848.6 Q513.2 863.1 371.7 898.2"/>
<path d="M652.1 845.2 Q513.8 862.9 371.1 894.7"/>
<path d="M651.6 842.1 Q506.5 858.4 370.5 891.6"/>
<path d="M651.0 838.9 Q510.8 856.7 370.0 888.5"/>
<path d="M650.4 835.3 Q505.8 852.9 369.4 884.9"/>
<path d="M649.8 831.9 Q505.2 851.4 368.7 881.5"/>
<path d="M649.2 828.5 Q504.2 848.3 368.2 878.1"/>
<path d="M648.7 825.8 Q505.3 843.9 367.7 875.4"/>
<path d="M648.0 821.9 Q506.4 839.4 367.0 871.5"/>
<path d="M647.4 818.7 Q503.9 832.5 366.4 868.3"/>
<path d="M646.9 815.8 Q506.7 834.2 365.9 865.4"/>
<path d="M646.3 811.9 Q506.2 827.2 365.2 861.5"/>
<path d="M645.7 808.9 Q502.8 828.2 364.7 858.5"/>
<path d="M645.2 805.8 Q503.2 820.2 364.1 855.4"/>
<path d="M644.4 801.6 Q501.3 816.6 363.4 851.2"/>
<path d="M643.9 798.7 Q502.2 817.2 362.9 848.3"/>
<path d="M643.3 795.4 Q504.1 808.7 362.3 845.0"/>
<path d="M642.8 792.2 Q497.6 805.4 361.7 841.7"/>
<path d="M642.1 788.2 Q501.9 802.0 361.0 837.8"/>
<path d="M641.6 785.6 Q498.9 803.9 360.6 835.1"/>
<path d="M640.9 781.5 Q500.9 798.6 359.9 831.0"/>
<path d="M640.4 778.9 Q497.6 792.8 359.4 828.5"/>
<path d="M639.8 775.1 Q498.3 789.1 358.7 824.7"/>
<path d="M639.2 772.1 Q499.5 784.7 358.2 821.7"/>
<path d="M638.5 768.1 Q499.6 788.0 357.5 817.6"/>
<path d="M638.0 765.2 Q496.4 782.3 357.0 814.8"/>
<path d="M637.4 761.6 Q499.2 779.4 356.3 811.2"/>
<path d="M636.9 758.6 Q497.7 774.9 355.8 808.2"/>
<path d="M636.2 754.9 Q496.0 767.3 355.2 804.5"/>
<path d="M635.6 751.4 Q494.9 767.7 354.5 800.9"/>
<path d="M635.0 748.3 Q492.7 762.2 354.0 797.9"/>
<path d="M634.4 745.0 Q488.7 761.3 353.4 794.5"/>
<path d="M633.8 741.5 Q491.4 758.4 352.8 791.0"/>
<path d="M633.2 737.8 Q494.3 751.2 352.1 787.3"/>
<path d="M632.6 734.6 Q491.6 747.4 351.6 784.2"/>
<path d="M632.1 731.8 Q488.0 744.8 351.1 781.3"/>
<path d="M631.5 728.2 Q492.9 743.2 350.5 777.8"/>
<path d="M630.8 724.5 Q490.4 737.9 349.8 774.0"/>
<path d="M630.2 721.2 Q489.1 740.9 349.2 770.7"/>
<path d="M629.7 718.0 Q489.6 733.1 348.7 767.5"/>
<path d="M629.1 714.5 Q490.5 733.8 348.0 764.1"/>
<path d="M628.6 711.6 Q488.6 727.8 347.5 761.2"/>
<path d="M628.0 708.6 Q482.4 721.6 347.0 758.2"/>
<path d="M627.4 705.2 Q482.7 721.5 346.4 754.7"/>
<path d="M626.7 701.3 Q485.0 717.0 345.7 750.8"/>
<path d="M626.2 698.0 Q482.6 714.0 345.1 747.5"/>
<path d="M625.5 694.5 Q482.8 708.3 344.5 744.0"/>
<path d="M624.9 691.0 Q484.7 706.3 343.9 740.5"/>
<path d="M624.4 688.2 Q482.7 705.4 343.4 737.8"/>
<path d="M623.9 685.1 Q477.9 699.1 342.9 734.6"/>
<path d="M623.2 681.1 Q478.3 697.1 342.1 730.6"/>
<path d="M622.7 678.4 Q478.4 692.1 341.7 728.0"/>
<path d="M622.1 674.8 Q477.4 687.4 341.0 724.4"/>
<path d="M621.5 671.8 Q476.9 688.1 340.5 721.4"/>
<path d="M621.0 668.5 Q475.1 684.5 339.9 718.1"/>
<path d="M620.3 664.8 Q479.9 677.5 339.3 714.3"/>
<path d="M619.7 661.4 Q476.9 674.0 338.7 711.0"/>
<path d="M619.0 657.4 Q474.8 670.5 338.0 707.0"/>
<path d="M618.5 654.6 Q473.8 672.0 337.5 704.2"/>
<path d="M618.0 651.4 Q472.9 664.2 336.9 701.0"/>
<path d="M617.3 647.6 Q473.5 666.3 336.3 697.2"/>
<path d="M616.7 644.6 Q478.2 659.4 335.7 694.2"/>
<path d="M616.2 641.5 Q472.3 660.4 335.2 691.1"/>
<path d="M615.5 637.7 Q472.3 650.8 334.5 687.3"/>
<path d="M614.9 634.3 Q476.7 651.4 333.9 683.9"/>
<path d="M614.5 631.8 Q468.7 644.8 333.5 681.3"/>
</g>
<clipPath id="mf6"><path d="M531.3 674.6 C535.2 671.8 560.5 669.9 563.1 674.6 C565.8 679.2 559.6 711.0 557.5 721.3 C555.5 731.5 545.0 766.8 542.5 777.5 C540.1 788.2 534.5 815.4 533.0 828.5 C531.4 841.6 535.6 900.4 526.9 908.4 C518.3 916.4 455.0 911.6 446.3 908.4 C437.6 905.3 440.3 882.2 439.6 876.7 C438.8 871.1 438.4 859.3 439.1 852.6 C439.7 845.8 444.2 818.3 446.3 809.3 C448.4 800.2 457.1 769.2 460.0 762.5 C462.9 755.8 470.5 745.6 475.0 741.9 C479.5 738.1 500.1 728.9 505.0 725.0 C509.9 721.1 521.1 707.5 523.8 702.5 C526.4 697.5 527.3 677.4 531.3 674.6Z"/></clipPath>
<g clip-path="url(#mf6)" stroke="#f7b29c" stroke-width="1.1" fill="none" opacity="0.3">
<path d="M662.9 906.1 Q517.2 918.9 381.8 955.7"/>
<path d="M661.5 898.7 Q522.7 912.6 380.5 948.2"/>
<path d="M660.3 891.4 Q518.1 910.2 379.2 940.9"/>
<path d="M659.1 884.6 Q520.6 897.2 378.0 934.1"/>
<path d="M658.0 878.4 Q516.8 898.3 376.9 927.9"/>
<path d="M656.8 871.8 Q513.1 890.9 375.8 921.3"/>
<path d="M655.6 864.8 Q512.7 879.9 374.5 914.4"/>
<path d="M654.2 857.3 Q515.7 871.0 373.2 906.8"/>
<path d="M653.0 850.3 Q512.9 869.3 372.0 899.9"/>
<path d="M651.8 843.6 Q513.2 858.9 370.8 893.2"/>
<path d="M650.7 836.9 Q506.5 855.5 369.6 886.5"/>
<path d="M649.4 829.9 Q505.6 843.6 368.4 879.5"/>
<path d="M648.2 822.8 Q507.0 840.8 367.1 872.3"/>
<path d="M647.0 816.3 Q504.9 829.8 366.0 865.8"/>
<path d="M645.7 809.0 Q499.9 825.1 364.7 858.5"/>
<path d="M644.5 802.0 Q503.9 815.1 363.5 851.6"/>
<path d="M643.4 795.7 Q504.1 813.2 362.4 845.3"/>
<path d="M642.0 788.1 Q503.0 804.0 361.0 837.7"/>
<path d="M640.8 781.2 Q500.7 796.2 359.8 830.7"/>
<path d="M639.7 774.9 Q494.3 790.5 358.7 824.5"/>
<path d="M638.4 767.3 Q493.2 784.2 357.4 816.9"/>
<path d="M637.3 761.4 Q492.0 779.0 356.3 811.0"/>
<path d="M636.1 754.4 Q490.5 768.0 355.1 803.9"/>
<path d="M634.8 747.0 Q493.5 759.5 353.8 796.6"/>
<path d="M633.7 740.6 Q495.4 754.7 352.6 790.2"/>
<path d="M632.4 733.3 Q489.7 751.9 351.4 782.9"/>
<path d="M631.2 726.4 Q491.5 743.0 350.1 775.9"/>
<path d="M630.0 720.0 Q485.5 733.0 349.0 769.5"/>
<path d="M628.7 712.3 Q483.6 724.9 347.7 761.9"/>
<path d="M627.4 705.3 Q483.0 724.8 346.4 754.8"/>
<path d="M626.4 699.4 Q484.1 713.5 345.4 749.0"/>
<path d="M625.0 691.6 Q484.0 709.1 344.0 741.2"/>
<path d="M623.8 684.8 Q484.8 699.9 342.8 734.4"/>
<path d="M622.7 678.1 Q480.2 691.4 341.6 727.7"/>
<path d="M621.4 671.0 Q480.1 689.8 340.4 720.5"/>
<path d="M620.3 664.8 Q478.6 680.9 339.3 714.4"/>
<path d="M619.0 657.3 Q473.6 672.4 338.0 706.8"/>
<path d="M617.8 650.7 Q472.4 667.5 336.8 700.2"/>
<path d="M616.6 643.5 Q473.9 661.0 335.5 693.1"/>
<path d="M615.4 636.8 Q471.1 651.9 334.3 686.3"/>
</g>
<clipPath id="mf7"><path d="M563.1 674.6 C569.1 669.9 612.3 673.1 617.5 674.6 C622.8 676.0 617.0 684.1 615.6 689.4 C614.3 694.6 608.0 717.7 604.4 726.9 C600.8 736.1 584.3 771.1 580.0 781.3 C575.8 791.4 565.6 816.6 561.8 828.5 C558.1 840.5 544.8 892.7 542.6 900.7 C540.4 908.7 541.7 907.7 540.2 908.4 C538.6 909.2 527.7 916.4 526.9 908.4 C526.2 900.4 531.4 841.6 533.0 828.5 C534.5 815.4 540.1 788.2 542.5 777.5 C545.0 766.8 555.5 731.5 557.5 721.3 C559.6 711.0 557.1 679.2 563.1 674.6Z"/></clipPath>
<g clip-path="url(#mf7)" stroke="#d5725e" stroke-width="0.9" fill="none" opacity="0.35">
<path d="M743.6 704.9 Q696.7 828.6 661.9 956.5"/>
<path d="M741.6 704.2 Q694.0 826.4 659.9 955.9"/>
<path d="M737.6 702.9 Q693.1 829.4 655.9 954.6"/>
<path d="M734.5 701.9 Q689.3 828.7 652.8 953.6"/>
<path d="M732.0 701.1 Q685.6 828.0 650.2 952.7"/>
<path d="M728.5 700.0 Q685.3 824.1 646.8 951.6"/>
<path d="M725.6 699.0 Q679.2 826.2 643.9 950.7"/>
<path d="M722.4 698.0 Q675.3 824.8 640.7 949.6"/>
<path d="M720.2 697.3 Q671.9 822.8 638.5 948.9"/>
<path d="M717.1 696.2 Q671.3 821.3 635.3 947.9"/>
<path d="M714.3 695.3 Q669.9 818.2 632.5 947.0"/>
<path d="M710.8 694.2 Q664.0 819.8 629.0 945.9"/>
<path d="M707.4 693.1 Q660.2 814.9 625.6 944.8"/>
<path d="M704.9 692.3 Q658.4 813.9 623.1 943.9"/>
<path d="M702.0 691.3 Q657.7 816.7 620.2 943.0"/>
<path d="M698.0 690.0 Q655.0 816.5 616.2 941.7"/>
<path d="M695.7 689.3 Q647.7 812.3 613.9 940.9"/>
<path d="M692.5 688.3 Q646.8 812.7 610.7 939.9"/>
<path d="M689.6 687.3 Q645.8 810.2 607.8 939.0"/>
<path d="M686.4 686.3 Q642.8 812.3 604.7 937.9"/>
<path d="M683.6 685.4 Q636.1 811.4 601.8 937.0"/>
<path d="M680.9 684.5 Q632.7 808.8 599.1 936.1"/>
<path d="M677.2 683.3 Q629.3 804.8 595.4 934.9"/>
<path d="M674.6 682.4 Q630.3 806.4 592.8 934.1"/>
<path d="M670.6 681.1 Q626.4 808.2 588.9 932.8"/>
<path d="M668.7 680.5 Q620.9 801.8 586.9 932.2"/>
<path d="M665.2 679.4 Q618.3 800.9 583.4 931.0"/>
<path d="M662.0 678.3 Q613.6 801.4 580.2 930.0"/>
<path d="M659.3 677.5 Q615.2 801.2 577.5 929.1"/>
<path d="M656.2 676.5 Q607.6 800.2 574.5 928.1"/>
<path d="M652.8 675.3 Q607.9 802.0 571.0 927.0"/>
<path d="M649.5 674.3 Q602.1 796.3 567.7 925.9"/>
<path d="M646.5 673.3 Q602.3 797.6 564.8 925.0"/>
<path d="M643.4 672.3 Q597.8 795.2 561.6 924.0"/>
<path d="M641.1 671.6 Q592.3 796.6 559.3 923.2"/>
<path d="M637.2 670.3 Q593.8 794.3 555.5 922.0"/>
<path d="M634.5 669.4 Q591.1 795.5 552.7 921.1"/>
<path d="M631.5 668.4 Q585.1 792.7 549.7 920.1"/>
<path d="M628.9 667.6 Q581.1 792.9 547.2 919.3"/>
<path d="M625.0 666.3 Q579.3 789.9 543.2 918.0"/>
<path d="M622.6 665.6 Q576.5 791.6 540.9 917.2"/>
<path d="M619.5 664.5 Q576.3 786.7 537.7 916.2"/>
<path d="M616.6 663.6 Q570.8 787.3 534.8 915.2"/>
<path d="M612.9 662.4 Q569.0 789.2 531.2 914.1"/>
<path d="M610.2 661.5 Q561.4 786.1 528.4 913.2"/>
<path d="M607.2 660.5 Q561.2 783.4 525.4 912.2"/>
<path d="M604.0 659.5 Q560.5 781.3 522.2 911.1"/>
<path d="M601.0 658.5 Q554.3 782.8 519.2 910.2"/>
<path d="M597.7 657.4 Q554.5 782.5 515.9 909.1"/>
<path d="M595.4 656.7 Q552.0 779.0 513.7 908.4"/>
<path d="M592.2 655.7 Q548.2 778.7 510.4 907.3"/>
<path d="M589.3 654.7 Q546.0 781.6 507.5 906.4"/>
<path d="M586.2 653.7 Q539.6 776.6 504.4 905.4"/>
<path d="M583.3 652.8 Q535.9 779.9 501.6 904.4"/>
<path d="M580.4 651.8 Q532.8 774.2 498.6 903.5"/>
<path d="M577.3 650.8 Q531.5 776.5 495.5 902.5"/>
<path d="M573.4 649.6 Q528.3 775.7 491.6 901.2"/>
<path d="M571.3 648.9 Q524.1 775.8 489.5 900.5"/>
<path d="M568.2 647.9 Q520.9 772.0 486.4 899.5"/>
<path d="M564.9 646.8 Q519.3 768.3 483.1 898.5"/>
<path d="M561.9 645.8 Q518.7 767.9 480.1 897.5"/>
<path d="M558.1 644.6 Q510.3 771.7 476.3 896.2"/>
<path d="M555.3 643.7 Q510.3 765.7 473.6 895.3"/>
<path d="M553.0 642.9 Q508.6 765.2 471.2 894.6"/>
<path d="M549.8 641.9 Q505.8 768.3 468.0 893.5"/>
<path d="M546.9 640.9 Q503.8 765.3 465.1 892.6"/>
<path d="M543.5 639.8 Q495.2 763.4 461.7 891.5"/>
<path d="M539.7 638.6 Q492.5 760.6 458.0 890.3"/>
<path d="M537.7 637.9 Q489.5 761.3 455.9 889.6"/>
<path d="M533.7 636.7 Q485.3 759.0 452.0 888.3"/>
<path d="M530.7 635.7 Q487.7 762.7 448.9 887.3"/>
<path d="M528.4 634.9 Q481.6 761.8 446.7 886.6"/>
<path d="M525.1 633.9 Q480.4 756.9 443.3 885.5"/>
<path d="M522.6 633.0 Q475.7 758.7 440.8 884.7"/>
<path d="M518.7 631.8 Q473.2 755.8 436.9 883.4"/>
<path d="M515.9 630.9 Q469.7 755.3 434.1 882.5"/>
<path d="M512.5 629.8 Q464.8 754.5 430.8 881.4"/>
<path d="M509.4 628.8 Q465.6 751.0 427.6 880.4"/>
<path d="M506.3 627.8 Q462.4 750.0 424.5 879.4"/>
<path d="M504.1 627.0 Q456.3 748.5 422.3 878.7"/>
<path d="M500.2 625.8 Q453.7 752.2 418.4 877.4"/>
<path d="M498.1 625.1 Q449.3 751.5 416.4 876.8"/>
</g>
<clipPath id="mf8"><path d="M563.1 674.6 C569.1 669.9 612.3 673.1 617.5 674.6 C622.8 676.0 617.0 684.1 615.6 689.4 C614.3 694.6 608.0 717.7 604.4 726.9 C600.8 736.1 584.3 771.1 580.0 781.3 C575.8 791.4 565.6 816.6 561.8 828.5 C558.1 840.5 544.8 892.7 542.6 900.7 C540.4 908.7 541.7 907.7 540.2 908.4 C538.6 909.2 527.7 916.4 526.9 908.4 C526.2 900.4 531.4 841.6 533.0 828.5 C534.5 815.4 540.1 788.2 542.5 777.5 C545.0 766.8 555.5 731.5 557.5 721.3 C559.6 711.0 557.1 679.2 563.1 674.6Z"/></clipPath>
<g clip-path="url(#mf8)" stroke="#f7b29c" stroke-width="1.1" fill="none" opacity="0.35">
<path d="M743.9 704.9 Q700.9 830.3 662.1 956.6"/>
<path d="M737.5 702.9 Q693.2 824.6 655.8 954.5"/>
<path d="M730.9 700.7 Q684.6 822.8 649.1 952.4"/>
<path d="M724.1 698.5 Q677.1 822.8 642.4 950.2"/>
<path d="M717.7 696.5 Q670.7 819.8 636.0 948.1"/>
<path d="M710.8 694.2 Q667.8 821.0 629.0 945.9"/>
<path d="M703.9 691.9 Q659.9 814.9 622.1 943.6"/>
<path d="M697.1 689.7 Q649.8 811.7 615.3 941.4"/>
<path d="M691.0 687.8 Q646.4 811.0 609.2 939.4"/>
<path d="M684.1 685.5 Q636.9 812.5 602.4 937.2"/>
<path d="M677.7 683.4 Q631.6 807.8 595.9 935.1"/>
<path d="M670.6 681.1 Q627.6 805.5 588.8 932.8"/>
<path d="M664.4 679.1 Q619.2 800.7 582.6 930.8"/>
<path d="M657.8 677.0 Q613.9 802.8 576.0 928.6"/>
<path d="M651.5 674.9 Q607.7 798.4 569.7 926.6"/>
<path d="M643.8 672.4 Q597.1 794.9 562.0 924.1"/>
<path d="M637.6 670.4 Q594.0 794.2 555.9 922.1"/>
<path d="M630.6 668.1 Q586.0 791.5 548.8 919.8"/>
<path d="M624.6 666.2 Q578.7 789.8 542.8 917.9"/>
<path d="M617.9 664.0 Q572.9 790.4 536.1 915.7"/>
<path d="M611.0 661.8 Q562.9 784.3 529.2 913.4"/>
<path d="M604.6 659.7 Q559.3 781.7 522.8 911.3"/>
<path d="M598.2 657.6 Q551.2 780.5 516.5 909.3"/>
<path d="M591.6 655.5 Q545.9 782.2 509.9 907.1"/>
<path d="M584.4 653.1 Q539.9 779.3 502.6 904.8"/>
<path d="M577.4 650.9 Q534.0 774.7 495.6 902.5"/>
<path d="M570.9 648.7 Q522.7 775.2 489.1 900.4"/>
<path d="M564.6 646.7 Q518.5 773.2 482.8 898.4"/>
<path d="M558.0 644.6 Q510.3 770.7 476.3 896.2"/>
<path d="M551.0 642.3 Q502.6 763.6 469.3 893.9"/>
<path d="M544.7 640.2 Q495.8 766.4 462.9 891.9"/>
<path d="M538.2 638.1 Q490.9 761.6 456.4 889.8"/>
<path d="M531.2 635.8 Q484.8 760.8 449.4 887.5"/>
<path d="M524.3 633.6 Q478.0 755.4 442.6 885.3"/>
<path d="M517.3 631.3 Q472.5 753.0 435.5 883.0"/>
<path d="M511.3 629.4 Q466.9 756.5 429.5 881.0"/>
<path d="M505.0 627.3 Q456.2 751.4 423.3 879.0"/>
</g>
<path d="M430.0 676.3 C427.5 680.6 418.4 693.1 415.0 702.5 C411.6 711.9 410.3 727.5 409.4 732.5" stroke="#cf6a57" stroke-width="1.2" fill="none" opacity="0.6"/>
<path d="M531.3 676.3 C530.0 680.6 528.1 694.4 523.8 702.5 C519.4 710.6 513.1 718.4 505.0 725.0 C496.9 731.6 480.0 739.1 475.0 741.9" stroke="#cf6a57" stroke-width="1.2" fill="none" opacity="0.6"/>
<path d="M563.1 676.3 C562.2 683.8 561.0 704.4 557.5 721.3 C554.1 738.1 546.6 759.6 542.5 777.5 C538.4 795.4 535.6 806.8 533.0 828.5 C530.4 850.3 527.9 894.7 526.9 908.0" stroke="#cf6a57" stroke-width="1.2" fill="none" opacity="0.6"/>
<path d="M494.4 780.4 C497.6 781.0 508.1 784.0 513.7 784.0 C519.3 784.0 525.7 781.0 528.1 780.4" stroke="#cf6a57" stroke-width="1.2" fill="none" opacity="0.6"/>
<path d="M484.8 806.8 C488.4 808.1 500.1 814.1 506.5 814.1 C512.9 814.1 520.5 808.1 523.3 806.8" stroke="#cf6a57" stroke-width="1.2" fill="none" opacity="0.6"/>
<path d="M499.3 833.3 C502.1 832.5 512.1 830.9 516.1 828.5 C520.1 826.1 522.1 820.5 523.3 818.9" stroke="#cf6a57" stroke-width="1.2" fill="none" opacity="0.6"/>
<path d="M401.9 747.5 C403.1 745.6 406.9 737.5 409.4 736.3 C411.9 735.0 412.8 738.8 416.9 740.0 C420.9 741.3 424.1 743.4 433.8 743.8 C443.4 744.1 468.1 742.2 475.0 741.9" stroke="#cf6a57" stroke-width="1.2" fill="none" opacity="0.6"/>
<path d="M385.9 674.6 C388.0 673.2 390.1 674.6 400.0 674.6 C409.9 674.6 487.8 674.6 505.0 674.6 C522.2 674.6 596.9 674.6 606.3 674.6 C615.6 674.6 616.7 673.3 617.5 674.6 C618.3 675.8 616.7 685.0 615.6 689.4 C614.5 693.7 607.4 719.2 604.4 726.9 C601.4 734.5 583.6 772.8 580.0 781.3 C576.5 789.7 565.0 818.6 561.8 828.5 C558.7 838.5 544.4 894.1 542.6 900.7 C540.8 907.4 548.2 907.8 540.2 908.4 C532.2 909.1 454.7 911.1 446.3 908.4 C437.9 905.8 440.2 881.3 439.6 876.7 C439.0 872.0 438.5 858.2 439.1 852.6 C439.6 847.0 444.5 816.8 446.3 809.3 C448.0 801.7 457.6 768.1 460.0 762.5 C462.4 756.9 477.2 743.4 475.0 741.9 C472.8 740.3 438.6 743.9 433.8 743.8 C428.9 743.6 418.9 740.6 416.9 740.0 C414.8 739.4 410.6 735.6 409.4 736.3 C408.1 736.9 405.0 746.2 401.9 747.5 C398.8 748.8 375.0 753.6 371.9 752.2 C368.7 750.8 364.5 734.0 364.0 730.6 C363.5 727.3 364.4 715.2 365.3 711.9 C366.2 708.6 373.0 694.4 374.7 691.3 C376.4 688.1 383.8 676.0 385.9 674.6Z" fill="none" stroke="#d8705c" stroke-width="1.1"/>
<path d="M373.8 753.1 C376.4 748.4 398.3 749.2 401.9 747.5 C405.4 745.8 407.9 737.0 409.4 736.3 C410.9 735.5 414.4 739.3 416.9 740.0 C419.3 740.8 427.9 743.6 433.8 743.8 C439.6 743.9 472.4 740.0 475.0 741.9 C477.6 743.8 462.6 756.7 460.0 762.5 C457.4 768.3 450.8 791.0 448.8 800.0 C446.7 809.0 440.4 844.9 439.6 852.6 C438.7 860.3 439.6 871.1 440.3 876.7 C440.9 882.2 451.2 905.3 446.3 908.4 C441.4 911.6 396.9 911.6 390.9 908.4 C384.9 905.3 387.3 884.2 386.1 876.7 C384.9 869.1 380.0 841.5 378.9 833.3 C377.8 825.1 375.8 802.8 375.3 794.8 C374.8 786.8 371.1 757.9 373.8 753.1Z" fill="#e3e8ef"/>
<clipPath id="shclip"><path d="M373.8 753.1 C376.4 748.4 398.3 749.2 401.9 747.5 C405.4 745.8 407.9 737.0 409.4 736.3 C410.9 735.5 414.4 739.3 416.9 740.0 C419.3 740.8 427.9 743.6 433.8 743.8 C439.6 743.9 472.4 740.0 475.0 741.9 C477.6 743.8 462.6 756.7 460.0 762.5 C457.4 768.3 450.8 791.0 448.8 800.0 C446.7 809.0 440.4 844.9 439.6 852.6 C438.7 860.3 439.6 871.1 440.3 876.7 C440.9 882.2 451.2 905.3 446.3 908.4 C441.4 911.6 396.9 911.6 390.9 908.4 C384.9 905.3 387.3 884.2 386.1 876.7 C384.9 869.1 380.0 841.5 378.9 833.3 C377.8 825.1 375.8 802.8 375.3 794.8 C374.8 786.8 371.1 757.9 373.8 753.1Z"/></clipPath>
<g fill="#eef1f5" opacity="0.45" clip-path="url(#shclip)">
<ellipse cx="407.1" cy="836.2" rx="8.6" ry="4.4"/>
<ellipse cx="410.5" cy="840.2" rx="4.9" ry="4.5"/>
<ellipse cx="417.8" cy="870.0" rx="4.5" ry="3.9"/>
<ellipse cx="385.4" cy="872.4" rx="7.5" ry="3.1"/>
<ellipse cx="438.9" cy="894.9" rx="7.3" ry="4.8"/>
<ellipse cx="389.4" cy="757.2" rx="6.6" ry="3.2"/>
<ellipse cx="391.4" cy="790.1" rx="4.2" ry="4.4"/>
<ellipse cx="406.4" cy="877.2" rx="6.6" ry="4.9"/>
<ellipse cx="410.0" cy="851.1" rx="6.3" ry="3.8"/>
<ellipse cx="439.9" cy="899.4" rx="8.2" ry="5.1"/>
<ellipse cx="398.9" cy="788.3" rx="5.4" ry="3.2"/>
<ellipse cx="426.0" cy="813.1" rx="8.2" ry="4.2"/>
<ellipse cx="437.5" cy="877.9" rx="4.0" ry="3.6"/>
<ellipse cx="434.6" cy="823.1" rx="8.9" ry="4.2"/>
<ellipse cx="384.4" cy="846.3" rx="7.9" ry="3.8"/>
<ellipse cx="385.2" cy="803.2" rx="8.8" ry="5.3"/>
<ellipse cx="387.1" cy="790.7" rx="4.5" ry="3.2"/>
<ellipse cx="427.8" cy="780.8" rx="6.8" ry="4.3"/>
<ellipse cx="391.4" cy="861.1" rx="4.7" ry="4.9"/>
<ellipse cx="387.0" cy="816.0" rx="5.1" ry="3.8"/>
<ellipse cx="438.3" cy="871.5" rx="5.5" ry="5.7"/>
<ellipse cx="392.6" cy="812.2" rx="8.3" ry="4.9"/>
<ellipse cx="386.0" cy="898.4" rx="5.1" ry="3.8"/>
<ellipse cx="426.4" cy="802.7" rx="5.5" ry="3.2"/>
<ellipse cx="385.4" cy="839.5" rx="5.2" ry="4.8"/>
<ellipse cx="402.3" cy="820.7" rx="8.8" ry="4.5"/>
</g>
<g fill="none" stroke="#d3dae4" stroke-width="1" opacity="0.7" clip-path="url(#shclip)">
<path d="M383.7 794.8 C386.1 796.4 398.5 798.8 398.1 804.4 C397.7 810.1 384.1 824.5 381.3 828.5"/>
<path d="M429.4 768.3 C430.2 774.3 434.3 786.4 434.3 804.4 C434.3 822.5 430.2 864.6 429.4 876.7"/>
<path d="M393.3 763.5 C394.5 765.1 400.6 769.5 400.6 773.1 C400.6 776.8 394.5 783.2 393.3 785.2"/>
<path d="M422.2 828.5 C421.4 830.9 417.0 838.1 417.4 843.0 C417.8 847.8 423.4 855.0 424.6 857.4"/>
<path d="M381.3 775.6 C386.1 776.4 399.4 780.8 410.2 780.4 C421.0 780.0 440.3 774.3 446.3 773.1"/>
<path d="M386.1 857.4 C390.1 857.8 401.4 860.6 410.2 859.8 C419.0 859.0 434.3 853.8 439.1 852.6"/>
</g>
<path d="M518.5 908.4 C516.5 907.0 524.1 900.6 528.1 899.5 C532.2 898.4 540.6 900.5 542.6 901.9 C544.6 903.4 544.2 907.4 540.2 908.4 C536.2 909.5 520.5 909.9 518.5 908.4Z" fill="#e6e9ef"/>
<path d="M612.0 769.6 C612.7 767.2 622.3 768.4 623.1 769.6 C624.0 770.9 621.9 787.0 624.1 788.1 C626.2 789.3 651.7 788.0 655.6 787.2 C659.4 786.5 679.6 776.7 681.5 777.0 C683.3 777.3 683.3 790.0 683.3 791.9 C683.3 793.7 683.3 803.8 681.5 804.8 C679.6 805.8 660.1 806.6 655.6 806.7 C651.0 806.7 615.9 808.2 613.0 805.7 C610.1 803.3 611.4 772.0 612.0 769.6Z" fill="#ea8a74"/>
<path d="M622.7 770.6 C624.5 769.0 638.2 768.6 641.7 767.8 C645.1 766.9 654.9 764.0 657.4 762.2 C659.9 760.5 665.0 751.5 666.7 750.2 C668.3 748.9 672.6 748.5 674.1 749.3 C675.6 750.0 680.7 755.0 681.5 757.6 C682.2 760.2 682.6 772.7 681.5 775.2 C680.4 777.7 673.0 781.5 670.4 782.6 C667.8 783.7 659.8 785.7 655.6 786.3 C651.3 786.9 631.0 788.4 627.8 788.1 C624.5 787.9 623.7 785.3 623.1 783.5 C622.6 781.8 620.8 772.1 622.7 770.6Z" fill="#dcdace" stroke="#cfccbf" stroke-width="1"/>
<path d="M664.8 753.0 C666.4 752.8 671.6 750.8 674.1 752.0 C676.5 753.3 678.7 759.0 679.6 760.4" stroke="#ebe9e0" stroke-width="4" fill="none"/>
<path d="M613.0 805.7 C615.4 804.5 632.6 806.8 637.0 806.7 C641.5 806.6 653.5 805.6 657.4 804.8 C661.3 804.1 673.2 800.6 675.9 799.3 C678.6 798.0 683.5 790.7 684.3 791.9 C685.0 793.0 684.0 807.8 683.3 810.4 C682.7 813.0 680.6 816.7 677.8 817.8 C675.0 818.9 661.8 820.6 655.6 821.5 C649.4 822.3 620.0 826.4 615.7 826.1 C611.5 825.8 613.2 820.7 613.0 818.7 C612.7 816.7 610.6 806.9 613.0 805.7Z" fill="#d9d7cb" stroke="#cac6b8" stroke-width="1"/>
<path d="M640 789 L643 804" stroke="#d06d5a" stroke-width="0.8" opacity="0.6"/>
<path d="M644 789 L647 804" stroke="#d06d5a" stroke-width="0.8" opacity="0.6"/>
<path d="M648 789 L651 804" stroke="#d06d5a" stroke-width="0.8" opacity="0.6"/>
<path d="M652 789 L655 804" stroke="#d06d5a" stroke-width="0.8" opacity="0.6"/>
<path d="M656 789 L659 804" stroke="#d06d5a" stroke-width="0.8" opacity="0.6"/>
<path d="M660 789 L663 804" stroke="#d06d5a" stroke-width="0.8" opacity="0.6"/>
<path d="M664 789 L667 804" stroke="#d06d5a" stroke-width="0.8" opacity="0.6"/>
<path d="M668 789 L671 804" stroke="#d06d5a" stroke-width="0.8" opacity="0.6"/>
<path d="M636 788 L636 806" stroke="#c86a58" stroke-width="1" opacity="0.6"/>
<filter id="soft" x="-20%" y="-20%" width="140%" height="140%"><feGaussianBlur stdDeviation="3"/></filter>
<g stroke="#f3f0ed" stroke-width="2.2" fill="none" stroke-linecap="round">
<path d="M842.0 706.0 C846.7 703.7 859.5 695.7 870.0 692.0 C880.5 688.3 894.2 685.5 905.0 684.0 C915.8 682.5 930.0 683.2 935.0 683.0"/>
<path d="M845.0 722.0 C850.8 721.0 870.0 718.5 880.0 716.0 C890.0 713.5 900.8 708.5 905.0 707.0"/>
<path d="M852.0 800.0 C853.0 808.3 855.7 830.8 858.0 850.0 C860.3 869.2 863.7 896.7 866.0 915.0 C868.3 933.3 871.0 952.5 872.0 960.0"/>
<path d="M1038.0 658.0 C1038.3 662.7 1039.7 681.3 1040.0 686.0"/>
<path d="M1080.0 690.0 C1081.0 695.0 1085.0 715.0 1086.0 720.0"/>
<path d="M935.0 660.0 C935.8 665.0 939.2 685.0 940.0 690.0"/>
</g>
<path d="M983 668 L983 728 L996 728 L996 668" fill="#eef0f4"/>
<path d="M983 671.0 Q989.5 673.2 996 671.0" stroke="#c4cad8" stroke-width="1.5" fill="none"/>
<path d="M983 675.6 Q989.5 677.8 996 675.6" stroke="#c4cad8" stroke-width="1.5" fill="none"/>
<path d="M983 680.2 Q989.5 682.4 996 680.2" stroke="#c4cad8" stroke-width="1.5" fill="none"/>
<path d="M983 684.8 Q989.5 687.0 996 684.8" stroke="#7a86a4" stroke-width="1.5" fill="none"/>
<path d="M983 689.4 Q989.5 691.6 996 689.4" stroke="#7a86a4" stroke-width="1.5" fill="none"/>
<path d="M983 694.0 Q989.5 696.2 996 694.0" stroke="#7a86a4" stroke-width="1.5" fill="none"/>
<path d="M983 698.6 Q989.5 700.8 996 698.6" stroke="#7a86a4" stroke-width="1.5" fill="none"/>
<path d="M983 703.2 Q989.5 705.4 996 703.2" stroke="#7a86a4" stroke-width="1.5" fill="none"/>
<path d="M983 707.8 Q989.5 710.0 996 707.8" stroke="#7a86a4" stroke-width="1.5" fill="none"/>
<path d="M983 712.4 Q989.5 714.6 996 712.4" stroke="#7a86a4" stroke-width="1.5" fill="none"/>
<path d="M983 717.0 Q989.5 719.2 996 717.0" stroke="#7a86a4" stroke-width="1.5" fill="none"/>
<path d="M983 721.6 Q989.5 723.8 996 721.6" stroke="#7a86a4" stroke-width="1.5" fill="none"/>
<path d="M983 726.2 Q989.5 728.4 996 726.2" stroke="#7a86a4" stroke-width="1.5" fill="none"/>
<path d="M1011.7 701.7 C1013.7 696.2 1020.2 693.3 1023.3 691.7 C1026.4 690.1 1031.0 688.7 1035.0 690.0 C1039.0 691.3 1049.1 698.1 1053.3 701.7 C1057.5 705.3 1064.2 712.5 1066.7 716.7 C1069.2 720.9 1070.6 726.6 1071.7 733.3 C1072.8 740.0 1074.3 753.8 1075.0 766.7 C1075.7 779.6 1076.1 818.6 1076.7 830.0 C1077.3 841.4 1079.1 843.1 1079.6 852.0 C1080.1 860.9 1084.7 892.0 1080.4 896.7 C1076.1 901.4 1054.0 890.2 1047.0 887.0 C1040.0 883.8 1031.3 877.8 1027.7 872.7 C1024.1 867.6 1021.2 855.0 1019.7 848.8 C1018.2 842.6 1018.7 831.8 1016.5 826.4 C1014.3 821.0 1005.7 814.0 1003.3 808.3 C1000.9 802.6 998.5 790.6 998.3 783.3 C998.1 776.0 1000.4 760.0 1001.7 753.3 C1003.0 746.6 1007.0 740.2 1008.3 733.3 C1009.6 726.4 1009.7 707.2 1011.7 701.7Z" fill="#c4547c"/>
<path d="M1025.0 705.0 C1030.0 698.7 1043.8 706.2 1050.0 712.0 C1056.2 717.8 1059.3 725.3 1062.0 740.0 C1064.7 754.7 1066.3 781.7 1066.0 800.0 C1065.7 818.3 1064.3 842.5 1060.0 850.0 C1055.7 857.5 1045.8 853.3 1040.0 845.0 C1034.2 836.7 1028.3 815.8 1025.0 800.0 C1021.7 784.2 1020.0 765.8 1020.0 750.0 C1020.0 734.2 1020.0 711.3 1025.0 705.0Z" fill="#d7819f" opacity="0.35" filter="url(#soft)"/>
<path d="M1012.0 701.0 C1013.8 699.5 1019.2 693.8 1023.0 692.0 C1026.8 690.2 1030.0 688.5 1035.0 690.0 C1040.0 691.5 1047.7 696.7 1053.0 701.0 C1058.3 705.3 1064.7 713.5 1067.0 716.0" stroke="#e8d3a2" stroke-width="3" fill="none" stroke-linecap="round"/>
<path d="M1002.0 758.0 C1006.7 760.8 1019.3 771.8 1030.0 775.0 C1040.7 778.2 1060.0 776.7 1066.0 777.0" stroke="#dd94b0" stroke-width="1.5" fill="none"/>
<path d="M1017.0 828.0 C1019.2 822.7 1031.0 823.2 1035.0 826.0 C1039.0 828.8 1040.8 839.3 1041.0 845.0 C1041.2 850.7 1039.2 857.8 1036.0 860.0 C1032.8 862.2 1025.2 863.3 1022.0 858.0 C1018.8 852.7 1014.8 833.3 1017.0 828.0Z" fill="#a5456c" opacity="0.75" filter="url(#soft)"/>
<path d="M1060.0 860.0 C1064.2 855.2 1071.8 849.2 1075.0 855.0 C1078.2 860.8 1083.2 890.2 1079.0 895.0 C1074.8 899.8 1053.2 889.8 1050.0 884.0 C1046.8 878.2 1055.8 864.8 1060.0 860.0Z" fill="#d27898" opacity="0.5" filter="url(#soft)"/>
<path d="M960.0 858.0 C964.3 855.1 978.0 857.4 985.0 860.0 C992.0 862.6 1012.5 877.6 1019.7 880.7 C1026.9 883.9 1045.8 884.7 1047.0 887.0 C1048.2 889.3 1033.2 897.0 1030.0 900.0 C1026.8 903.0 1022.8 908.6 1019.7 912.7 C1016.6 916.8 1006.6 929.0 1003.8 935.0 C1001.0 941.0 997.1 958.6 995.8 963.8 C994.5 969.0 994.1 977.8 992.6 979.7 C991.1 981.6 985.1 981.9 983.0 979.7 C980.9 977.5 977.2 964.7 975.0 960.6 C972.8 956.5 967.0 946.8 963.8 944.6 C960.6 942.4 952.4 941.4 947.9 941.4 C943.4 941.4 926.5 948.1 925.0 945.0 C923.5 941.9 932.3 922.0 935.0 915.0 C937.7 908.0 945.1 891.6 948.0 885.0 C950.9 878.4 955.7 860.9 960.0 858.0Z" fill="#c1607a"/>
<g stroke="#dc98a6" stroke-width="1" fill="none" opacity="0.6">
<path d="M958.0 884 Q972.0 935 986 977"/>
<path d="M964.0 884 Q975.0 935 986 977"/>
<path d="M970.0 884 Q978.0 935 986 977"/>
<path d="M976.0 884 Q981.0 935 986 977"/>
<path d="M982.0 884 Q984.0 935 986 977"/>
<path d="M988.0 884 Q987.0 935 986 977"/>
<path d="M994.0 884 Q990.0 935 986 977"/>
<path d="M1000.0 884 Q993.0 935 986 977"/>
<path d="M1006.0 884 Q996.0 935 986 977"/>
<path d="M1012.0 884 Q999.0 935 986 977"/>
<path d="M1018.0 884 Q1002.0 935 986 977"/>
<path d="M1024.0 884 Q1005.0 935 986 977"/>
<path d="M1030.0 884 Q1008.0 935 986 977"/>
<path d="M1036.0 884 Q1011.0 935 986 977"/>
</g>
<path d="M981.0 860.0 C984.2 857.6 1014.2 856.8 1019.7 858.0 C1025.2 859.2 1033.0 869.1 1035.7 872.0 C1038.4 874.9 1048.6 886.0 1047.0 887.0 C1045.4 888.0 1025.6 882.0 1019.7 881.5 C1013.8 881.0 991.7 884.4 987.8 882.3 C983.9 880.1 977.8 862.4 981.0 860.0Z" fill="#dc9eaa"/>
<path d="M990.0 861 L992.0 881" stroke="#f3d6dc" stroke-width="1.1"/>
<path d="M994.4 861 L996.4 881" stroke="#f3d6dc" stroke-width="1.1"/>
<path d="M998.8 861 L1000.8 881" stroke="#f3d6dc" stroke-width="1.1"/>
<path d="M1003.2 861 L1005.2 881" stroke="#f3d6dc" stroke-width="1.1"/>
<path d="M1007.6 861 L1009.6 881" stroke="#f3d6dc" stroke-width="1.1"/>
<path d="M1012.0 861 L1014.0 881" stroke="#f3d6dc" stroke-width="1.1"/>
<path d="M1016.4 861 L1018.4 881" stroke="#f3d6dc" stroke-width="1.1"/>
<path d="M1020.8 861 L1022.8 881" stroke="#f3d6dc" stroke-width="1.1"/>
<path d="M1025.2 861 L1027.2 881" stroke="#f3d6dc" stroke-width="1.1"/>
<path d="M1029.6 861 L1031.6 881" stroke="#f3d6dc" stroke-width="1.1"/>
<path d="M1034.0 861 L1036.0 881" stroke="#f3d6dc" stroke-width="1.1"/>
<path d="M1038.4 861 L1040.4 881" stroke="#f3d6dc" stroke-width="1.1"/>
<clipPath id="rcclip"><path d="M929.8 711.1 C933.6 708.1 939.9 697.7 944.0 694.8 C948.1 691.9 956.5 689.4 960.3 689.7 C964.1 690.0 970.5 693.8 972.6 696.8 C974.7 699.8 975.3 706.2 976.0 712.0 C976.7 717.8 977.7 721.6 978.0 740.0 C978.3 758.4 979.7 834.0 978.0 850.0 C976.3 866.0 968.9 855.1 965.2 860.2 C961.5 865.3 954.3 879.8 950.3 888.0 C946.3 896.2 939.7 912.6 935.4 922.0 C931.1 931.4 923.4 950.3 918.3 958.3 C913.2 966.3 901.0 980.8 897.0 981.7 C893.0 982.6 891.1 971.5 888.5 964.7 C885.9 957.9 879.8 943.7 877.8 930.6 C875.8 917.5 873.8 880.8 873.5 866.6 C873.2 852.4 874.4 832.5 875.7 824.0 C877.0 815.5 880.9 809.6 883.0 802.7 C885.1 795.8 888.4 780.3 891.1 772.2 C893.8 764.1 900.0 748.9 903.3 741.6 C906.6 734.3 912.0 721.3 915.5 717.2 C919.0 713.1 926.0 714.1 929.8 711.1Z"/></clipPath>
<path d="M929.8 711.1 C933.6 708.1 939.9 697.7 944.0 694.8 C948.1 691.9 956.5 689.4 960.3 689.7 C964.1 690.0 970.5 693.8 972.6 696.8 C974.7 699.8 975.3 706.2 976.0 712.0 C976.7 717.8 977.7 721.6 978.0 740.0 C978.3 758.4 979.7 834.0 978.0 850.0 C976.3 866.0 968.9 855.1 965.2 860.2 C961.5 865.3 954.3 879.8 950.3 888.0 C946.3 896.2 939.7 912.6 935.4 922.0 C931.1 931.4 923.4 950.3 918.3 958.3 C913.2 966.3 901.0 980.8 897.0 981.7 C893.0 982.6 891.1 971.5 888.5 964.7 C885.9 957.9 879.8 943.7 877.8 930.6 C875.8 917.5 873.8 880.8 873.5 866.6 C873.2 852.4 874.4 832.5 875.7 824.0 C877.0 815.5 880.9 809.6 883.0 802.7 C885.1 795.8 888.4 780.3 891.1 772.2 C893.8 764.1 900.0 748.9 903.3 741.6 C906.6 734.3 912.0 721.3 915.5 717.2 C919.0 713.1 926.0 714.1 929.8 711.1Z" fill="#e8999e"/>
<g clip-path="url(#rcclip)">
<g stroke="#cc6a78" stroke-width="0.9" fill="none" opacity="0.5">
<path d="M910.8 753.5 l1.8 6.4"/>
<path d="M930.9 808.3 l0.6 8.5"/>
<path d="M883.6 825.6 l0.6 6.5"/>
<path d="M920.3 925.8 l0.7 7.1"/>
<path d="M939.6 956.7 l1.7 8.0"/>
<path d="M972.7 726.9 l2.2 7.4"/>
<path d="M893.7 745.0 l1.1 10.1"/>
<path d="M897.2 863.3 l1.8 7.9"/>
<path d="M932.0 731.0 l0.6 7.0"/>
<path d="M944.6 824.0 l1.1 8.9"/>
<path d="M923.1 791.4 l2.1 9.5"/>
<path d="M903.2 861.5 l1.6 10.4"/>
<path d="M949.3 788.4 l2.5 6.6"/>
<path d="M919.7 908.1 l0.8 8.4"/>
<path d="M883.7 885.4 l2.0 8.9"/>
<path d="M963.2 795.0 l1.9 9.0"/>
<path d="M935.1 831.3 l2.2 10.7"/>
<path d="M925.0 884.4 l0.6 9.5"/>
<path d="M941.5 968.2 l2.1 7.4"/>
<path d="M916.7 885.5 l0.5 8.3"/>
<path d="M896.0 744.9 l0.6 9.8"/>
<path d="M892.3 778.1 l1.3 10.4"/>
<path d="M887.7 829.5 l1.6 10.4"/>
<path d="M957.8 935.3 l1.1 8.1"/>
<path d="M914.1 940.5 l2.4 6.8"/>
<path d="M896.7 774.1 l1.0 8.4"/>
<path d="M936.0 782.0 l0.5 8.1"/>
<path d="M915.1 859.4 l2.4 9.5"/>
<path d="M929.0 872.5 l1.9 6.3"/>
<path d="M965.5 913.9 l2.2 10.0"/>
<path d="M917.3 816.7 l0.7 9.2"/>
<path d="M885.9 732.2 l0.9 6.8"/>
<path d="M912.3 728.4 l0.5 6.8"/>
<path d="M889.6 807.7 l0.6 10.4"/>
<path d="M938.3 752.9 l1.0 7.7"/>
<path d="M914.6 746.3 l2.2 11.0"/>
<path d="M924.3 838.4 l0.7 6.5"/>
<path d="M912.6 782.5 l2.2 6.8"/>
<path d="M882.2 957.5 l1.6 6.7"/>
<path d="M931.6 721.9 l1.6 10.9"/>
<path d="M962.0 892.5 l1.0 7.8"/>
<path d="M895.9 911.8 l1.6 9.9"/>
<path d="M911.3 771.9 l2.1 10.9"/>
<path d="M961.0 920.6 l2.1 9.7"/>
<path d="M901.5 847.0 l1.2 6.1"/>
<path d="M882.7 786.3 l1.0 9.5"/>
<path d="M970.9 829.0 l2.4 10.9"/>
<path d="M970.7 808.0 l0.9 7.1"/>
<path d="M898.7 767.1 l1.7 10.5"/>
<path d="M959.8 837.3 l1.8 10.0"/>
<path d="M888.1 883.4 l2.3 9.9"/>
<path d="M951.3 836.9 l0.9 9.9"/>
<path d="M911.6 919.2 l2.4 8.0"/>
<path d="M918.1 956.4 l1.9 6.9"/>
<path d="M892.1 753.5 l2.3 10.0"/>
<path d="M893.9 925.8 l2.5 9.3"/>
<path d="M913.3 854.9 l0.8 6.1"/>
<path d="M972.2 880.7 l1.6 10.7"/>
<path d="M921.2 937.3 l2.2 7.1"/>
<path d="M903.9 789.7 l1.0 8.9"/>
<path d="M904.6 821.8 l0.8 10.6"/>
<path d="M913.6 831.8 l1.7 10.5"/>
<path d="M920.0 949.0 l1.5 8.7"/>
<path d="M929.7 719.8 l1.4 6.9"/>
<path d="M880.4 918.8 l0.8 8.4"/>
<path d="M948.9 856.9 l1.2 8.6"/>
<path d="M932.8 915.0 l0.7 8.8"/>
<path d="M903.6 785.6 l2.0 8.5"/>
<path d="M933.4 908.8 l2.3 8.2"/>
<path d="M938.2 843.9 l1.5 9.5"/>
<path d="M923.0 851.0 l1.5 10.7"/>
<path d="M946.4 938.5 l2.4 7.3"/>
<path d="M933.2 955.5 l2.2 6.7"/>
<path d="M891.6 827.7 l0.6 7.2"/>
<path d="M886.9 885.7 l2.1 10.5"/>
<path d="M894.7 897.6 l1.8 6.7"/>
<path d="M963.9 961.7 l0.9 10.8"/>
<path d="M917.8 839.3 l2.5 10.2"/>
<path d="M895.3 825.0 l1.5 7.7"/>
<path d="M898.6 796.2 l1.9 6.1"/>
<path d="M932.6 827.3 l0.5 7.7"/>
<path d="M939.3 845.6 l0.6 10.9"/>
<path d="M954.9 962.8 l0.7 7.3"/>
<path d="M883.8 913.6 l1.0 6.6"/>
<path d="M920.1 947.4 l2.1 7.3"/>
<path d="M894.2 949.4 l1.6 9.5"/>
<path d="M888.5 729.7 l1.9 8.1"/>
<path d="M886.9 954.3 l1.8 10.0"/>
<path d="M888.0 933.3 l0.6 10.3"/>
<path d="M923.1 801.5 l1.6 10.6"/>
<path d="M905.4 748.0 l1.6 7.2"/>
<path d="M890.4 756.2 l0.6 7.0"/>
<path d="M909.6 792.8 l2.0 7.4"/>
<path d="M927.5 760.4 l1.2 6.1"/>
<path d="M903.8 718.9 l2.0 8.8"/>
<path d="M898.0 836.1 l2.4 6.5"/>
<path d="M957.8 825.2 l1.5 10.2"/>
<path d="M917.3 844.2 l1.9 10.9"/>
<path d="M912.6 927.2 l1.9 9.2"/>
<path d="M918.4 803.6 l0.6 6.6"/>
<path d="M886.7 903.9 l1.0 6.8"/>
<path d="M888.0 929.5 l2.2 9.4"/>
<path d="M906.8 776.8 l1.1 8.3"/>
<path d="M895.0 828.7 l1.0 10.8"/>
<path d="M972.4 854.5 l1.0 10.8"/>
<path d="M909.4 805.9 l0.5 7.9"/>
<path d="M925.1 843.2 l0.9 8.5"/>
<path d="M880.5 782.4 l0.7 8.0"/>
<path d="M884.0 720.7 l1.1 7.2"/>
<path d="M935.6 849.9 l2.0 9.3"/>
<path d="M948.0 939.2 l1.3 7.6"/>
<path d="M973.5 753.1 l1.9 9.2"/>
<path d="M884.2 928.0 l2.3 9.1"/>
<path d="M949.7 922.1 l0.8 8.6"/>
<path d="M927.9 927.9 l2.1 10.1"/>
<path d="M935.5 942.7 l1.9 9.5"/>
<path d="M901.8 722.9 l0.8 7.8"/>
<path d="M890.0 928.1 l1.6 9.1"/>
<path d="M939.5 888.6 l1.5 6.0"/>
<path d="M955.8 905.8 l1.5 8.7"/>
<path d="M942.6 731.8 l2.0 7.3"/>
<path d="M887.1 782.7 l2.0 7.0"/>
<path d="M950.3 963.8 l1.5 7.9"/>
<path d="M925.5 889.3 l2.0 9.1"/>
<path d="M941.1 734.8 l0.8 7.3"/>
<path d="M950.6 792.6 l1.6 6.1"/>
<path d="M885.8 783.5 l1.8 9.5"/>
<path d="M944.2 789.2 l1.5 8.3"/>
<path d="M924.3 745.2 l2.3 7.0"/>
<path d="M972.9 953.7 l0.5 8.3"/>
<path d="M957.9 961.9 l1.4 7.3"/>
<path d="M899.9 956.1 l0.9 8.9"/>
<path d="M893.5 848.6 l2.4 6.7"/>
<path d="M957.9 844.7 l2.3 9.5"/>
<path d="M902.0 943.9 l1.5 6.1"/>
<path d="M880.3 840.4 l1.4 7.5"/>
<path d="M893.4 802.7 l1.1 10.2"/>
<path d="M880.2 906.4 l2.2 6.6"/>
<path d="M968.0 896.8 l2.3 7.4"/>
<path d="M915.4 815.2 l2.5 8.9"/>
<path d="M914.3 824.2 l1.1 6.2"/>
<path d="M889.7 927.8 l1.1 10.7"/>
<path d="M903.7 782.8 l1.5 6.9"/>
<path d="M915.5 958.8 l2.3 10.1"/>
<path d="M939.9 947.9 l2.4 8.7"/>
<path d="M948.4 727.6 l2.0 8.3"/>
<path d="M951.5 879.3 l1.1 6.2"/>
<path d="M968.0 747.5 l1.4 7.7"/>
<path d="M908.3 903.5 l2.5 7.3"/>
<path d="M942.3 791.7 l1.6 8.0"/>
<path d="M895.9 756.2 l0.9 10.5"/>
<path d="M927.2 771.1 l2.3 11.0"/>
<path d="M922.7 750.6 l0.9 6.5"/>
<path d="M912.5 738.2 l1.0 7.3"/>
<path d="M934.1 941.2 l2.0 8.1"/>
<path d="M919.3 848.7 l1.3 7.7"/>
<path d="M885.9 785.8 l2.4 6.6"/>
<path d="M927.8 875.6 l2.2 7.1"/>
<path d="M905.7 778.4 l1.3 8.2"/>
<path d="M970.6 931.4 l2.2 6.1"/>
<path d="M883.1 895.9 l2.3 8.4"/>
<path d="M935.8 715.0 l1.3 10.6"/>
<path d="M958.4 933.1 l2.4 7.2"/>
<path d="M890.4 754.4 l1.5 9.4"/>
<path d="M969.4 899.0 l1.8 9.8"/>
<path d="M923.4 855.6 l0.6 9.9"/>
<path d="M902.1 949.6 l1.8 7.5"/>
<path d="M892.2 779.2 l1.8 9.5"/>
<path d="M890.7 732.9 l1.5 8.9"/>
<path d="M916.9 772.0 l1.7 6.1"/>
<path d="M908.6 832.5 l2.4 9.2"/>
<path d="M964.0 836.2 l1.0 7.2"/>
<path d="M971.3 894.7 l1.1 6.1"/>
<path d="M927.3 887.0 l1.3 7.3"/>
<path d="M943.4 950.9 l1.0 6.2"/>
<path d="M912.1 822.2 l1.9 7.0"/>
<path d="M955.7 903.5 l1.5 7.0"/>
<path d="M972.1 794.5 l2.1 7.2"/>
<path d="M901.0 908.9 l1.1 10.8"/>
<path d="M927.1 762.8 l0.9 8.1"/>
<path d="M943.2 956.9 l0.8 8.0"/>
<path d="M900.2 963.4 l0.8 6.3"/>
<path d="M885.7 815.3 l2.3 10.4"/>
<path d="M949.6 969.4 l2.4 7.6"/>
<path d="M897.6 953.6 l2.0 6.2"/>
<path d="M943.1 811.5 l1.2 7.7"/>
<path d="M896.1 715.7 l1.1 7.8"/>
<path d="M970.8 746.5 l2.4 7.0"/>
<path d="M913.9 924.5 l2.1 8.2"/>
<path d="M884.7 835.7 l1.2 10.6"/>
<path d="M898.3 807.9 l2.3 6.2"/>
<path d="M919.0 922.0 l2.0 6.2"/>
<path d="M883.3 731.0 l2.3 7.3"/>
<path d="M951.0 944.1 l1.2 7.4"/>
<path d="M971.0 872.3 l1.0 9.6"/>
<path d="M910.1 785.3 l0.5 9.8"/>
<path d="M967.1 876.7 l2.4 6.1"/>
<path d="M902.2 836.2 l2.4 10.8"/>
<path d="M916.7 779.0 l1.4 8.5"/>
<path d="M968.2 761.6 l2.1 9.7"/>
<path d="M958.2 912.1 l1.7 7.6"/>
<path d="M910.4 807.3 l2.1 6.4"/>
<path d="M898.7 907.0 l1.0 6.3"/>
<path d="M883.2 855.9 l1.2 10.9"/>
<path d="M963.9 966.9 l1.0 6.4"/>
<path d="M889.2 842.1 l1.9 8.2"/>
<path d="M902.2 821.3 l1.7 9.4"/>
<path d="M951.1 931.0 l1.8 6.6"/>
<path d="M959.9 789.9 l1.6 7.9"/>
<path d="M950.1 765.8 l1.0 7.2"/>
<path d="M894.6 940.5 l1.7 7.6"/>
<path d="M917.6 968.1 l1.5 7.2"/>
<path d="M956.8 881.6 l2.5 6.5"/>
<path d="M925.1 923.9 l2.2 10.6"/>
<path d="M883.8 789.9 l0.7 6.9"/>
<path d="M972.4 863.7 l2.4 7.9"/>
<path d="M962.3 829.5 l1.0 9.9"/>
<path d="M969.8 742.0 l1.7 9.1"/>
<path d="M900.7 809.0 l0.8 7.0"/>
<path d="M904.2 867.9 l1.8 7.0"/>
<path d="M881.1 798.4 l1.9 6.9"/>
<path d="M909.7 766.9 l2.1 8.7"/>
<path d="M886.0 740.9 l1.3 8.8"/>
<path d="M940.7 738.2 l0.8 9.5"/>
<path d="M918.9 787.2 l1.1 10.8"/>
<path d="M909.7 859.5 l1.2 8.1"/>
<path d="M962.1 969.1 l1.2 7.0"/>
<path d="M949.2 766.9 l0.5 10.5"/>
<path d="M920.3 924.2 l1.3 10.4"/>
<path d="M923.8 756.4 l0.5 8.8"/>
<path d="M940.9 947.0 l0.7 9.1"/>
<path d="M915.2 843.6 l0.8 7.4"/>
<path d="M929.5 951.0 l0.7 8.5"/>
<path d="M956.5 961.6 l0.9 6.6"/>
<path d="M969.6 963.8 l1.5 6.3"/>
<path d="M968.0 813.9 l2.3 9.1"/>
<path d="M958.3 755.9 l2.1 7.1"/>
<path d="M918.4 930.8 l2.2 6.9"/>
<path d="M900.7 816.9 l1.5 7.9"/>
<path d="M891.7 778.0 l1.9 10.5"/>
<path d="M883.9 858.4 l2.0 6.2"/>
<path d="M959.6 745.0 l1.7 8.8"/>
<path d="M939.6 793.1 l1.3 8.9"/>
<path d="M920.4 883.0 l1.4 8.2"/>
<path d="M882.2 872.8 l1.5 7.2"/>
<path d="M952.5 913.9 l1.4 6.9"/>
<path d="M925.0 742.3 l0.8 8.2"/>
<path d="M888.7 827.7 l1.5 6.2"/>
<path d="M940.5 736.0 l2.0 9.9"/>
<path d="M928.6 728.8 l1.5 7.9"/>
<path d="M970.3 749.7 l2.2 11.0"/>
<path d="M949.5 922.8 l0.9 10.9"/>
<path d="M926.7 958.9 l2.3 6.8"/>
<path d="M954.9 952.3 l0.6 7.8"/>
<path d="M951.8 755.5 l2.3 7.4"/>
<path d="M957.5 751.6 l1.5 10.6"/>
<path d="M899.8 782.0 l1.5 7.6"/>
<path d="M883.5 761.4 l0.8 10.7"/>
<path d="M944.6 943.3 l0.8 9.9"/>
<path d="M890.9 850.3 l1.8 7.8"/>
<path d="M962.9 856.6 l1.7 10.4"/>
<path d="M889.9 968.2 l1.8 8.0"/>
<path d="M955.8 782.5 l2.5 8.9"/>
<path d="M914.2 910.0 l1.4 6.9"/>
<path d="M950.6 727.3 l2.1 7.3"/>
<path d="M940.7 965.9 l1.7 9.3"/>
<path d="M909.7 715.5 l0.6 6.7"/>
<path d="M938.5 825.2 l1.5 10.5"/>
<path d="M892.5 773.0 l1.8 6.1"/>
<path d="M880.2 805.5 l0.7 7.8"/>
<path d="M901.3 863.8 l1.7 7.0"/>
<path d="M939.3 836.1 l0.8 10.7"/>
<path d="M903.1 753.1 l0.7 9.2"/>
<path d="M962.8 914.4 l1.3 7.3"/>
<path d="M881.1 879.5 l1.6 7.8"/>
<path d="M941.3 828.2 l2.4 9.7"/>
<path d="M903.6 945.4 l0.6 8.7"/>
<path d="M918.6 775.6 l0.6 9.9"/>
<path d="M881.2 855.5 l2.4 6.7"/>
<path d="M899.0 870.1 l1.5 9.2"/>
<path d="M957.3 759.5 l1.1 7.5"/>
<path d="M884.6 941.8 l2.1 9.6"/>
<path d="M880.6 930.3 l2.0 8.3"/>
<path d="M950.5 830.4 l1.0 6.5"/>
<path d="M902.1 724.9 l1.2 9.7"/>
<path d="M946.0 930.6 l1.9 7.3"/>
<path d="M932.6 826.2 l2.1 8.6"/>
<path d="M905.2 878.7 l2.4 7.1"/>
<path d="M963.6 718.9 l1.0 7.2"/>
<path d="M950.7 955.9 l2.0 7.6"/>
<path d="M963.6 798.8 l1.0 10.5"/>
<path d="M939.9 891.7 l1.8 10.9"/>
<path d="M924.6 929.1 l1.9 10.3"/>
<path d="M921.5 899.8 l1.6 7.5"/>
<path d="M900.1 873.8 l0.7 10.6"/>
<path d="M893.7 721.9 l0.7 10.6"/>
<path d="M912.8 751.2 l0.6 6.2"/>
<path d="M945.8 876.6 l1.9 9.7"/>
<path d="M886.2 865.6 l1.2 10.1"/>
<path d="M957.9 942.3 l0.6 10.3"/>
<path d="M966.9 955.8 l0.7 7.0"/>
<path d="M890.6 723.8 l2.2 10.1"/>
<path d="M940.2 925.4 l1.8 7.4"/>
<path d="M889.5 740.0 l2.0 7.0"/>
<path d="M910.3 823.1 l0.5 7.3"/>
<path d="M906.8 897.5 l1.2 7.6"/>
<path d="M971.6 843.5 l2.2 9.1"/>
<path d="M882.9 820.3 l1.4 9.9"/>
<path d="M912.9 894.7 l1.6 7.1"/>
<path d="M961.9 738.2 l2.1 6.9"/>
<path d="M880.1 766.5 l2.0 10.9"/>
<path d="M880.4 840.2 l1.5 10.0"/>
<path d="M897.5 841.1 l1.2 10.2"/>
<path d="M904.8 955.7 l1.1 7.1"/>
<path d="M946.5 842.1 l0.7 9.2"/>
<path d="M887.7 915.9 l1.9 9.9"/>
<path d="M939.7 805.7 l1.3 8.0"/>
<path d="M964.6 737.0 l2.3 6.1"/>
<path d="M899.6 782.1 l2.3 8.5"/>
<path d="M916.0 940.4 l1.0 8.3"/>
</g>
<g stroke="#f8cccc" stroke-width="1" fill="none" opacity="0.6">
<path d="M930.5 907.4 l2.0 7.6"/>
<path d="M913.1 798.3 l0.8 8.4"/>
<path d="M942.9 904.2 l0.8 6.8"/>
<path d="M953.5 862.7 l0.8 6.8"/>
<path d="M964.1 775.7 l0.9 6.2"/>
<path d="M946.8 930.1 l0.8 5.6"/>
<path d="M903.5 798.3 l1.5 5.6"/>
<path d="M911.2 763.3 l2.5 7.9"/>
<path d="M889.7 960.4 l0.7 6.5"/>
<path d="M973.5 917.7 l2.0 6.7"/>
<path d="M898.6 877.7 l0.7 5.8"/>
<path d="M916.9 723.7 l1.3 8.2"/>
<path d="M945.9 842.6 l1.8 6.9"/>
<path d="M893.5 868.9 l1.3 8.0"/>
<path d="M966.3 824.7 l1.6 8.0"/>
<path d="M920.0 773.3 l1.9 8.5"/>
<path d="M953.5 893.5 l2.2 7.7"/>
<path d="M940.9 830.7 l1.1 7.5"/>
<path d="M889.3 822.0 l2.1 7.9"/>
<path d="M939.8 778.8 l1.3 6.8"/>
<path d="M939.0 819.4 l1.9 8.7"/>
<path d="M897.4 881.9 l2.1 6.6"/>
<path d="M926.5 963.5 l0.6 7.2"/>
<path d="M895.3 914.4 l2.4 7.1"/>
<path d="M889.6 861.5 l1.6 7.9"/>
<path d="M928.7 878.0 l2.2 7.1"/>
<path d="M919.0 956.7 l0.9 7.7"/>
<path d="M917.3 909.5 l0.7 8.9"/>
<path d="M913.8 729.4 l1.0 6.6"/>
<path d="M881.3 821.7 l1.3 7.8"/>
<path d="M913.5 782.6 l0.9 8.0"/>
<path d="M969.3 849.4 l0.9 8.2"/>
<path d="M917.2 769.1 l0.8 8.1"/>
<path d="M956.9 876.7 l1.4 7.2"/>
<path d="M901.5 960.8 l1.2 7.6"/>
<path d="M957.8 923.1 l1.4 6.2"/>
<path d="M932.1 746.9 l2.2 6.4"/>
<path d="M960.8 783.2 l1.3 6.0"/>
<path d="M920.5 762.4 l0.5 7.9"/>
<path d="M906.7 777.5 l1.1 6.9"/>
<path d="M920.7 877.5 l1.8 6.4"/>
<path d="M968.2 932.9 l0.6 8.3"/>
<path d="M966.1 914.9 l0.8 8.3"/>
<path d="M940.2 718.8 l0.5 8.8"/>
<path d="M942.3 778.8 l0.7 5.6"/>
<path d="M902.2 913.0 l1.2 5.6"/>
<path d="M965.9 916.9 l0.8 8.6"/>
<path d="M937.8 914.2 l1.8 8.6"/>
<path d="M954.9 928.9 l0.9 7.8"/>
<path d="M930.4 904.2 l1.4 8.5"/>
<path d="M932.7 782.4 l1.0 5.6"/>
<path d="M926.8 729.9 l1.4 5.6"/>
<path d="M926.7 842.0 l1.6 8.5"/>
<path d="M880.6 929.4 l1.4 7.3"/>
<path d="M943.2 929.3 l1.2 6.7"/>
<path d="M971.3 734.2 l1.8 7.5"/>
<path d="M882.7 870.5 l1.9 8.7"/>
<path d="M911.4 965.3 l1.5 6.9"/>
<path d="M965.3 723.6 l1.9 7.5"/>
<path d="M912.2 934.7 l1.2 6.9"/>
<path d="M929.9 911.5 l0.9 6.7"/>
<path d="M920.1 856.3 l2.2 6.2"/>
<path d="M958.6 818.0 l1.5 6.1"/>
<path d="M928.1 963.6 l1.8 8.2"/>
<path d="M911.4 795.9 l1.1 7.3"/>
<path d="M940.3 915.0 l0.6 7.9"/>
<path d="M964.1 854.1 l0.6 6.2"/>
<path d="M880.6 763.4 l2.3 7.4"/>
<path d="M942.5 916.2 l2.3 7.4"/>
<path d="M938.6 874.8 l1.9 7.4"/>
<path d="M944.7 769.2 l1.8 6.8"/>
<path d="M952.5 740.8 l0.9 5.1"/>
<path d="M953.6 948.1 l1.8 6.5"/>
<path d="M958.1 915.6 l1.6 6.0"/>
<path d="M908.7 822.6 l1.1 6.7"/>
<path d="M941.0 953.1 l0.6 7.3"/>
<path d="M883.7 745.3 l2.1 7.3"/>
<path d="M967.3 828.9 l0.5 6.5"/>
<path d="M936.2 954.1 l2.5 6.9"/>
<path d="M919.2 741.0 l1.8 5.8"/>
<path d="M894.4 719.0 l0.5 7.7"/>
<path d="M891.6 961.4 l0.7 8.5"/>
<path d="M892.3 719.5 l1.9 6.0"/>
<path d="M949.7 762.8 l0.6 8.1"/>
<path d="M947.8 933.2 l2.0 5.3"/>
<path d="M939.7 895.9 l1.4 8.7"/>
<path d="M904.1 960.9 l1.9 5.0"/>
<path d="M881.4 880.9 l2.1 5.3"/>
<path d="M909.6 901.0 l0.8 8.4"/>
<path d="M926.2 730.2 l1.2 7.3"/>
<path d="M921.7 887.6 l0.8 8.2"/>
<path d="M914.5 879.4 l1.8 6.7"/>
<path d="M916.6 915.5 l2.4 8.1"/>
<path d="M933.8 789.6 l0.6 8.9"/>
<path d="M946.8 926.0 l1.2 7.4"/>
<path d="M972.9 927.0 l1.7 6.2"/>
<path d="M920.7 941.5 l1.3 7.7"/>
<path d="M937.2 943.5 l2.1 6.1"/>
<path d="M880.2 782.1 l1.3 7.3"/>
<path d="M957.5 941.3 l0.6 8.3"/>
<path d="M957.1 936.1 l1.6 6.1"/>
<path d="M960.9 920.8 l1.9 8.7"/>
<path d="M913.0 736.7 l1.6 8.2"/>
<path d="M899.0 906.3 l2.4 5.9"/>
<path d="M937.7 887.8 l1.4 5.8"/>
<path d="M904.2 906.5 l2.1 6.8"/>
<path d="M888.3 920.7 l2.0 5.9"/>
<path d="M935.1 943.7 l2.3 7.1"/>
<path d="M925.3 865.3 l0.9 5.8"/>
<path d="M897.2 893.8 l1.2 7.3"/>
<path d="M918.2 846.9 l0.8 5.2"/>
<path d="M974.7 810.4 l0.7 7.5"/>
<path d="M954.8 754.8 l1.7 6.4"/>
<path d="M929.3 720.2 l0.6 9.0"/>
<path d="M962.3 839.0 l1.6 6.0"/>
<path d="M954.0 823.6 l2.4 8.1"/>
<path d="M957.8 960.7 l1.0 5.2"/>
<path d="M899.1 761.1 l0.7 5.2"/>
<path d="M933.0 937.0 l1.4 8.8"/>
<path d="M966.4 731.4 l1.7 6.6"/>
<path d="M891.4 959.6 l1.0 7.3"/>
<path d="M940.9 958.9 l1.8 6.6"/>
<path d="M922.6 755.7 l2.4 9.0"/>
<path d="M901.1 724.9 l1.0 6.4"/>
<path d="M965.8 945.7 l2.2 5.2"/>
<path d="M954.7 896.0 l1.8 8.9"/>
<path d="M885.3 751.9 l2.0 8.8"/>
<path d="M944.3 791.2 l1.7 8.0"/>
<path d="M890.0 797.6 l1.0 5.5"/>
<path d="M925.7 758.0 l1.0 5.6"/>
<path d="M944.4 718.2 l1.9 5.8"/>
<path d="M883.4 951.6 l0.9 8.7"/>
<path d="M962.3 941.6 l0.8 6.8"/>
<path d="M889.2 951.8 l2.2 7.5"/>
<path d="M923.0 801.6 l2.1 6.9"/>
<path d="M939.7 751.4 l0.9 5.2"/>
<path d="M947.8 856.1 l0.8 8.5"/>
<path d="M905.3 820.0 l0.8 6.1"/>
<path d="M959.8 800.3 l0.8 7.0"/>
<path d="M910.2 945.3 l0.7 8.9"/>
<path d="M885.4 943.2 l1.8 5.8"/>
<path d="M925.4 788.0 l1.0 5.8"/>
<path d="M914.6 967.7 l2.5 8.7"/>
<path d="M889.3 788.8 l2.3 5.2"/>
<path d="M949.0 789.8 l2.5 5.1"/>
<path d="M956.7 801.9 l0.8 5.0"/>
<path d="M959.1 849.3 l0.9 6.7"/>
<path d="M966.6 770.7 l1.6 5.6"/>
<path d="M897.1 911.5 l1.9 5.8"/>
<path d="M887.5 737.3 l1.7 7.0"/>
<path d="M906.0 767.5 l1.7 7.8"/>
<path d="M957.1 863.6 l0.9 5.3"/>
<path d="M949.6 819.1 l1.9 5.2"/>
<path d="M957.0 800.5 l2.2 8.5"/>
<path d="M926.8 718.9 l2.3 6.9"/>
<path d="M962.8 782.9 l0.9 8.3"/>
<path d="M914.9 756.7 l1.2 7.4"/>
<path d="M880.4 847.6 l1.4 7.1"/>
<path d="M891.5 897.2 l2.1 8.5"/>
<path d="M910.5 896.4 l1.3 8.0"/>
</g>
</g>
<path d="M933.0 712.0 C932.3 709.1 937.1 700.7 940.0 698.0 C942.9 695.3 951.3 692.4 955.0 692.0 C958.7 691.6 965.3 693.3 968.0 695.0 C970.7 696.7 973.9 700.6 975.0 705.0 C976.1 709.4 978.0 725.2 976.0 728.0 C974.0 730.8 964.1 727.1 960.0 726.0 C955.9 724.9 948.6 721.9 945.0 720.0 C941.4 718.1 933.7 714.9 933.0 712.0Z" fill="#b94c7b"/>
<ellipse cx="956" cy="703" rx="6" ry="4.5" fill="#d888aa" opacity="0.6"/>
<path d="M930.0 712.0 C931.7 709.5 935.8 700.7 940.0 697.0 C944.2 693.3 950.3 690.8 955.0 690.0 C959.7 689.2 964.5 690.3 968.0 692.0 C971.5 693.7 974.7 698.7 976.0 700.0" stroke="#ead7a4" stroke-width="3" fill="none" stroke-linecap="round"/>
<g clip-path="url(#rcclip)">
<path d="M929.8 716.1 C931.1 718.1 934.2 724.9 937.9 728.3 C941.6 731.7 946.0 734.5 952.2 736.5 C958.4 738.5 971.2 739.8 975.0 740.5" stroke="#c8687a" stroke-width="3.5" fill="none" opacity="0.4"/>
<path d="M909.0 742.0 C910.8 744.5 914.2 752.5 920.0 757.0 C925.8 761.5 934.7 766.8 944.0 769.0 C953.3 771.2 970.7 769.8 976.0 770.0" stroke="#c8687a" stroke-width="3.5" fill="none" opacity="0.4"/>
<path d="M902.0 761.0 C903.5 764.7 906.5 777.0 911.0 783.0 C915.5 789.0 922.5 794.0 929.0 797.0 C935.5 800.0 942.6 801.2 950.3 801.2 C958.0 801.2 970.9 797.7 975.0 797.0" stroke="#c8687a" stroke-width="3.5" fill="none" opacity="0.4"/>
<path d="M889.0 791.0 C890.3 794.3 893.9 805.7 897.0 811.0 C900.1 816.3 900.9 820.0 907.6 822.6 C914.4 825.2 926.8 827.6 937.5 826.8 C948.2 826.0 966.2 819.5 972.0 818.0" stroke="#c8687a" stroke-width="3.5" fill="none" opacity="0.4"/>
<path d="M880.0 817.0 C881.2 820.0 883.1 830.2 887.0 835.0 C890.9 839.8 896.0 843.1 903.4 846.0 C910.8 848.9 920.0 853.1 931.1 852.4 C942.2 851.7 963.5 843.7 970.0 842.0" stroke="#c8687a" stroke-width="3.5" fill="none" opacity="0.4"/>
<path d="M875.0 850.0 C875.8 852.5 876.3 860.7 880.0 865.0 C883.7 869.3 889.9 873.2 897.0 875.9 C904.1 878.6 914.6 881.4 922.6 881.2 C930.6 881.1 941.3 876.0 945.0 875.0" stroke="#c8687a" stroke-width="3.5" fill="none" opacity="0.4"/>
<path d="M876.0 877.0 C877.0 879.7 878.5 888.6 882.0 893.0 C885.5 897.4 891.0 900.4 897.0 903.6 C903.0 906.8 912.0 912.6 918.3 912.0 C924.6 911.4 932.2 902.0 935.0 900.0" stroke="#c8687a" stroke-width="3.5" fill="none" opacity="0.4"/>
<path d="M877.0 908.0 C878.2 910.8 880.7 920.4 884.0 925.0 C887.3 929.6 892.4 932.1 897.0 935.6 C901.6 939.1 907.4 945.5 911.9 946.2 C916.4 946.9 922.0 941.0 924.0 940.0" stroke="#c8687a" stroke-width="3.5" fill="none" opacity="0.4"/>
<path d="M881.0 940.0 C882.2 942.5 885.0 950.8 888.0 955.0 C891.0 959.2 895.8 963.2 899.1 965.4 C902.4 967.6 906.5 967.6 908.0 968.0" stroke="#c8687a" stroke-width="3.5" fill="none" opacity="0.4"/>
<path d="M886.0 965.0 C887.0 967.0 889.8 973.7 892.0 977.0 C894.2 980.3 897.8 983.3 899.0 984.6" stroke="#c8687a" stroke-width="3.5" fill="none" opacity="0.4"/>
</g>
<path d="M929.8 711.1 C931.1 713.1 934.2 719.9 937.9 723.3 C941.6 726.7 946.0 729.5 952.2 731.5 C958.4 733.5 971.2 734.8 975.0 735.5" stroke="#b88478" stroke-width="7.4" fill="none" stroke-linecap="round" opacity="0.5"/>
<path d="M929.8 711.1 C931.1 713.1 934.2 719.9 937.9 723.3 C941.6 726.7 946.0 729.5 952.2 731.5 C958.4 733.5 971.2 734.8 975.0 735.5" stroke="#f4e3b8" stroke-width="5.8" fill="none" stroke-linecap="round"/>
<path d="M909.0 737.0 C910.8 739.5 914.2 747.5 920.0 752.0 C925.8 756.5 934.7 761.8 944.0 764.0 C953.3 766.2 970.7 764.8 976.0 765.0" stroke="#b88478" stroke-width="7.4" fill="none" stroke-linecap="round" opacity="0.5"/>
<path d="M909.0 737.0 C910.8 739.5 914.2 747.5 920.0 752.0 C925.8 756.5 934.7 761.8 944.0 764.0 C953.3 766.2 970.7 764.8 976.0 765.0" stroke="#f4e3b8" stroke-width="5.8" fill="none" stroke-linecap="round"/>
<path d="M902.0 756.0 C903.5 759.7 906.5 772.0 911.0 778.0 C915.5 784.0 922.5 789.0 929.0 792.0 C935.5 795.0 942.6 796.2 950.3 796.2 C958.0 796.2 970.9 792.7 975.0 792.0" stroke="#b88478" stroke-width="7.4" fill="none" stroke-linecap="round" opacity="0.5"/>
<path d="M902.0 756.0 C903.5 759.7 906.5 772.0 911.0 778.0 C915.5 784.0 922.5 789.0 929.0 792.0 C935.5 795.0 942.6 796.2 950.3 796.2 C958.0 796.2 970.9 792.7 975.0 792.0" stroke="#f4e3b8" stroke-width="5.8" fill="none" stroke-linecap="round"/>
<path d="M889.0 786.0 C890.3 789.3 893.9 800.7 897.0 806.0 C900.1 811.3 900.9 815.0 907.6 817.6 C914.4 820.2 926.8 822.6 937.5 821.8 C948.2 821.0 966.2 814.5 972.0 813.0" stroke="#b88478" stroke-width="7.4" fill="none" stroke-linecap="round" opacity="0.5"/>
<path d="M889.0 786.0 C890.3 789.3 893.9 800.7 897.0 806.0 C900.1 811.3 900.9 815.0 907.6 817.6 C914.4 820.2 926.8 822.6 937.5 821.8 C948.2 821.0 966.2 814.5 972.0 813.0" stroke="#f4e3b8" stroke-width="5.8" fill="none" stroke-linecap="round"/>
<path d="M880.0 812.0 C881.2 815.0 883.1 825.2 887.0 830.0 C890.9 834.8 896.0 838.1 903.4 841.0 C910.8 843.9 920.0 848.1 931.1 847.4 C942.2 846.7 963.5 838.7 970.0 837.0" stroke="#b88478" stroke-width="7.4" fill="none" stroke-linecap="round" opacity="0.5"/>
<path d="M880.0 812.0 C881.2 815.0 883.1 825.2 887.0 830.0 C890.9 834.8 896.0 838.1 903.4 841.0 C910.8 843.9 920.0 848.1 931.1 847.4 C942.2 846.7 963.5 838.7 970.0 837.0" stroke="#f4e3b8" stroke-width="5.8" fill="none" stroke-linecap="round"/>
<path d="M875.0 845.0 C875.8 847.5 876.3 855.7 880.0 860.0 C883.7 864.3 889.9 868.2 897.0 870.9 C904.1 873.6 914.6 876.4 922.6 876.2 C930.6 876.1 941.3 871.0 945.0 870.0" stroke="#b88478" stroke-width="7.4" fill="none" stroke-linecap="round" opacity="0.5"/>
<path d="M875.0 845.0 C875.8 847.5 876.3 855.7 880.0 860.0 C883.7 864.3 889.9 868.2 897.0 870.9 C904.1 873.6 914.6 876.4 922.6 876.2 C930.6 876.1 941.3 871.0 945.0 870.0" stroke="#f4e3b8" stroke-width="5.8" fill="none" stroke-linecap="round"/>
<path d="M876.0 872.0 C877.0 874.7 878.5 883.6 882.0 888.0 C885.5 892.4 891.0 895.4 897.0 898.6 C903.0 901.8 912.0 907.6 918.3 907.0 C924.6 906.4 932.2 897.0 935.0 895.0" stroke="#b88478" stroke-width="7.4" fill="none" stroke-linecap="round" opacity="0.5"/>
<path d="M876.0 872.0 C877.0 874.7 878.5 883.6 882.0 888.0 C885.5 892.4 891.0 895.4 897.0 898.6 C903.0 901.8 912.0 907.6 918.3 907.0 C924.6 906.4 932.2 897.0 935.0 895.0" stroke="#f4e3b8" stroke-width="5.8" fill="none" stroke-linecap="round"/>
<path d="M877.0 903.0 C878.2 905.8 880.7 915.4 884.0 920.0 C887.3 924.6 892.4 927.1 897.0 930.6 C901.6 934.1 907.4 940.5 911.9 941.2 C916.4 941.9 922.0 936.0 924.0 935.0" stroke="#b88478" stroke-width="7.4" fill="none" stroke-linecap="round" opacity="0.5"/>
<path d="M877.0 903.0 C878.2 905.8 880.7 915.4 884.0 920.0 C887.3 924.6 892.4 927.1 897.0 930.6 C901.6 934.1 907.4 940.5 911.9 941.2 C916.4 941.9 922.0 936.0 924.0 935.0" stroke="#f4e3b8" stroke-width="5.8" fill="none" stroke-linecap="round"/>
<path d="M881.0 935.0 C882.2 937.5 885.0 945.8 888.0 950.0 C891.0 954.2 895.8 958.2 899.1 960.4 C902.4 962.6 906.5 962.6 908.0 963.0" stroke="#b88478" stroke-width="7.4" fill="none" stroke-linecap="round" opacity="0.5"/>
<path d="M881.0 935.0 C882.2 937.5 885.0 945.8 888.0 950.0 C891.0 954.2 895.8 958.2 899.1 960.4 C902.4 962.6 906.5 962.6 908.0 963.0" stroke="#f4e3b8" stroke-width="5.8" fill="none" stroke-linecap="round"/>
<path d="M886.0 960.0 C887.0 962.0 889.8 968.7 892.0 972.0 C894.2 975.3 897.8 978.3 899.0 979.6" stroke="#b88478" stroke-width="7.4" fill="none" stroke-linecap="round" opacity="0.5"/>
<path d="M886.0 960.0 C887.0 962.0 889.8 968.7 892.0 972.0 C894.2 975.3 897.8 978.3 899.0 979.6" stroke="#f4e3b8" stroke-width="5.8" fill="none" stroke-linecap="round"/>
<path d="M955.0 732.5 C958.3 733.0 971.7 735.0 975.0 735.5" stroke="#e0e3da" stroke-width="5.8" fill="none" stroke-linecap="butt"/>
<path d="M952.0 765.5 C956.0 765.4 972.0 765.1 976.0 765.0" stroke="#e0e3da" stroke-width="5.8" fill="none" stroke-linecap="butt"/>
<path d="M950.3 796.2 C954.4 795.5 970.9 792.7 975.0 792.0" stroke="#e0e3da" stroke-width="5.8" fill="none" stroke-linecap="butt"/>
<path d="M937.5 821.8 C943.2 820.3 966.2 814.5 972.0 813.0" stroke="#e0e3da" stroke-width="5.8" fill="none" stroke-linecap="butt"/>
<path d="M931.1 847.4 C937.6 845.7 963.5 838.7 970.0 837.0" stroke="#e0e3da" stroke-width="5.8" fill="none" stroke-linecap="butt"/>
<path d="M897.0 981.7 C900.5 977.8 911.9 968.2 918.3 958.3 C924.7 948.3 930.1 933.7 935.4 922.0 C940.7 910.3 945.3 898.3 950.3 888.0 C955.3 877.7 960.6 866.6 965.2 860.2 C969.8 853.8 975.9 851.4 978.0 849.6" stroke="#b9b9ae" stroke-width="8.5" fill="none" stroke-linecap="round" opacity="0.45"/>
<path d="M897.0 981.7 C900.5 977.8 911.9 968.2 918.3 958.3 C924.7 948.3 930.1 933.7 935.4 922.0 C940.7 910.3 945.3 898.3 950.3 888.0 C955.3 877.7 960.6 866.6 965.2 860.2 C969.8 853.8 975.9 851.4 978.0 849.6" stroke="#e2e4db" stroke-width="6.5" fill="none" stroke-linecap="round"/>
<path d="M922.6 876.2 C926.3 875.2 939.1 871.7 945.0 870.0 C950.9 868.3 955.8 866.7 958.0 866.0" stroke="#e2e4db" stroke-width="5" fill="none" stroke-linecap="round"/>
<path d="M918.3 907.0 C921.4 904.2 933.9 892.8 937.0 890.0" stroke="#e2e4db" stroke-width="5" fill="none" stroke-linecap="round"/>
<path d="M911.9 941.2 C914.2 939.0 923.6 930.2 926.0 928.0" stroke="#e2e4db" stroke-width="5" fill="none" stroke-linecap="round"/>
<path d="M950.0 872.0 C952.0 869.7 957.7 861.3 962.0 858.0 C966.3 854.7 973.7 853.0 976.0 852.0" stroke="#e2e4db" stroke-width="6" fill="none"/>
<path d="M972.0 723.0 C972.7 721.3 977.7 720.9 979.0 721.0 C980.3 721.1 983.8 724.0 985.0 724.0 C986.2 724.0 989.7 721.1 991.0 721.0 C992.3 720.9 997.4 721.3 998.0 723.0 C998.6 724.7 997.5 735.1 997.0 738.0 C996.5 740.9 993.0 749.8 993.0 752.0 C993.0 754.2 996.7 755.2 997.0 760.0 C997.3 764.8 996.2 793.0 996.0 800.0 C995.8 807.0 995.5 825.0 995.0 830.0 C994.5 835.0 991.5 846.0 991.0 850.0 C990.5 854.0 990.3 865.7 990.0 870.0 C989.7 874.3 988.7 890.5 988.0 893.0 C987.3 895.5 983.9 897.3 983.0 895.0 C982.1 892.7 979.6 874.5 979.0 870.0 C978.4 865.5 977.5 854.0 977.0 850.0 C976.5 846.0 974.4 836.0 974.0 830.0 C973.6 824.0 972.8 797.0 973.0 790.0 C973.2 783.0 975.7 763.8 976.0 760.0 C976.3 756.2 976.4 754.2 976.0 752.0 C975.6 749.8 972.4 740.9 972.0 738.0 C971.6 735.1 971.3 724.7 972.0 723.0Z" fill="#ead29a" stroke="#d2b27c" stroke-width="1.1"/>
<path d="M976 755 L994 755" stroke="#d2b27c" stroke-width="1.2"/>
<path d="M980 868 L991 868" stroke="#c4a070" stroke-width="1.2"/>
<path d="M977 800 L990 803 M978 835 L988 838" stroke="#dcc08a" stroke-width="1" fill="none"/>
<ellipse cx="985" cy="734" rx="6" ry="5" fill="#f3e2b8" opacity="0.8"/>
<path d="M721.1 458.9 C722.6 461.3 726.5 466.8 730.0 473.3 C733.5 479.8 738.5 490.0 742.2 497.8 C745.9 505.6 749.5 513.7 752.2 520.0 C754.9 526.3 756.2 528.9 758.2 535.6 C760.2 542.3 762.9 552.6 764.0 560.0 C765.1 567.4 764.9 572.5 764.6 580.0 C764.3 587.5 763.3 598.6 762.0 605.0 C760.7 611.4 757.8 616.2 756.9 618.5" stroke="#df1a1f" stroke-width="3" fill="none"/>
<path d="M759.0 612.0 C756.7 617.2 749.9 635.4 745.0 643.0 C740.1 650.6 736.3 653.2 729.6 657.4 C722.9 661.6 713.6 665.0 705.0 668.0 C696.4 671.0 687.0 673.6 677.8 675.6 C668.6 677.6 658.0 678.9 650.0 680.0 C642.0 681.1 633.3 682.1 630.0 682.5" stroke="#df1a1f" stroke-width="3" fill="none"/>
<path d="M618.5 683.5 L631.7 673.7 L629.0 682.5 L633.2 690.7Z" fill="#ec0d12"/>
<path d="M759.0 612.0 C757.8 620.0 755.2 645.1 752.0 660.0 C748.8 674.9 744.8 688.7 740.0 701.5 C735.2 714.3 729.0 726.2 723.0 737.0 C717.0 747.8 710.0 759.0 703.7 766.3 C697.4 773.6 691.5 777.1 685.0 781.0 C678.5 784.9 668.3 788.1 665.0 789.5" stroke="#df1a1f" stroke-width="3" fill="none"/>
<path d="M653.5 793.5 L663.4 780.5 L663.3 789.7 L669.6 796.3Z" fill="#ec0d12"/>
<path d="M758.9 456.7 C759.5 460.9 760.2 473.5 762.2 482.2 C764.2 490.9 768.3 500.0 771.1 508.9 C773.9 517.8 773.7 523.0 778.9 535.6 C784.1 548.2 794.0 567.9 802.2 584.8 C810.4 601.6 820.4 621.8 828.2 636.7 C836.1 651.6 845.8 668.1 849.3 674.4" stroke="#df1a1f" stroke-width="3" fill="none"/>
<path d="M849.3 674.4 C852.9 679.8 861.0 693.4 870.7 707.0 C880.4 720.6 895.5 741.0 907.4 755.9 C919.3 770.8 929.1 783.7 942.0 796.6 C954.9 809.5 974.5 825.5 984.8 833.3 C995.1 841.1 1000.8 841.8 1004.0 843.5" stroke="#df1a1f" stroke-width="3" fill="none"/>
<path d="M1016.4 849.6 L999.2 850.6 L1006.3 844.6 L1006.7 835.3Z" fill="#ec0d12"/>
<path d="M849.3 674.4 C849.8 680.5 849.8 698.8 852.4 711.0 C855.0 723.2 859.5 736.9 864.6 747.8 C869.7 758.7 877.4 769.8 883.0 776.3 C888.6 782.8 895.5 784.8 898.0 786.5" stroke="#df1a1f" stroke-width="3" fill="none"/>
<path d="M909.4 790.5 L892.2 791.5 L899.3 785.6 L899.7 776.3Z" fill="#ec0d12"/>
<path d="M688.8 371.3 Q683.7 378.8 688.8 386.3" stroke="#2a2a2a" stroke-width="2.4" fill="none" stroke-linecap="round"/>
<path d="M700.4 371.3 Q705.5 378.8 700.4 386.3" stroke="#2a2a2a" stroke-width="2.4" fill="none" stroke-linecap="round"/>
<path d="M689.9 378.8 H699.3" stroke="#2a2a2a" stroke-width="2.04" fill="none"/>
<path d="M757.0 380.3 Q751.8 387.8 757.0 395.3" stroke="#2a2a2a" stroke-width="2.4" fill="none" stroke-linecap="round"/>
<path d="M769.0 380.3 Q774.2 387.8 769.0 395.3" stroke="#2a2a2a" stroke-width="2.4" fill="none" stroke-linecap="round"/>
<path d="M758.2 387.8 H767.8" stroke="#2a2a2a" stroke-width="2.04" fill="none"/>
<path d="M763.0 382.7 V392.9" stroke="#2a2a2a" stroke-width="2.40" fill="none"/>
<path d="M684.5 592.3 Q679.4 599.8 684.5 607.3" stroke="#262626" stroke-width="2.1" fill="none" stroke-linecap="round"/>
<path d="M697.1 592.3 Q702.2 599.8 697.1 607.3" stroke="#262626" stroke-width="2.1" fill="none" stroke-linecap="round"/>
<path d="M685.9 599.8 H695.7" stroke="#262626" stroke-width="1.78" fill="none"/>
<path d="M690.8 594.6 V605.0" stroke="#262626" stroke-width="2.10" fill="none"/>
<path d="M822.6 572.8 Q817.4 580.8 822.6 588.8" stroke="#262626" stroke-width="2.1" fill="none" stroke-linecap="round"/>
<path d="M834.6 572.8 Q839.8 580.8 834.6 588.8" stroke="#262626" stroke-width="2.1" fill="none" stroke-linecap="round"/>
<path d="M823.8 580.8 H833.4" stroke="#262626" stroke-width="1.78" fill="none"/>
<path d="M828.6 575.7 V585.9" stroke="#262626" stroke-width="2.10" fill="none"/>
<line x1="647.3" y1="797" x2="647.3" y2="841.5" stroke="#1c1c1c" stroke-width="2"/>
<g id="lines" stroke="#222" stroke-width="2" fill="none">
<line x1="568" y1="171" x2="720" y2="171"/>
<line x1="721" y1="153" x2="848" y2="153"/>
<line x1="472" y1="354.5" x2="678" y2="354.5"/>
<line x1="612" y1="442.5" x2="722" y2="442.5"/>
<line x1="577" y1="490.5" x2="720" y2="490.5"/>
<line x1="745" y1="321" x2="834" y2="321"/>
<line x1="745" y1="358" x2="838" y2="358"/>
<line x1="760" y1="457" x2="834" y2="457"/>
<path d="M1079 299 L1087 301 L1087 384 L1079 386" stroke-width="2.5"/>
<path d="M832 983 L832 854 L901 854"/>
<line x1="1020" y1="860" x2="1020" y2="981"/>
</g>
<g id="labels" font-size="18">
<text x="405.5" y="177.6" textLength="146" lengthAdjust="spacingAndGlyphs">Medulla oblangata</text>
<text x="853.3" y="160.8" textLength="38.7" lengthAdjust="spacingAndGlyphs">Pons</text>
<text x="407.9" y="359.4" textLength="39" lengthAdjust="spacingAndGlyphs">Pons</text>
<text x="407.9" y="435.7">Ventrale</text>
<text x="407.9" y="457" textLength="180.3" lengthAdjust="spacingAndGlyphs">respiratorische Gruppe</text>
<text x="408.8" y="495.8" textLength="146.4" lengthAdjust="spacingAndGlyphs">Medulla oblangata</text>
<text x="853.7" y="328" textLength="220.2" lengthAdjust="spacingAndGlyphs">Pneumotaktischen Zentrum</text>
<text x="853.7" y="364.9" textLength="188.5" lengthAdjust="spacingAndGlyphs">Apneustisches Zentrum</text>
<text x="853.7" y="461.6" textLength="245.3" lengthAdjust="spacingAndGlyphs">Dorsale respiratorische Gruppe</text>
<text x="1101.8" y="326.1" textLength="59.6" lengthAdjust="spacingAndGlyphs">Pontine</text>
<text x="1101.8" y="346.5" textLength="118.3" lengthAdjust="spacingAndGlyphs">respiratorische</text>
<text x="1101.8" y="367.6" textLength="56" lengthAdjust="spacingAndGlyphs">Gruppe</text>
<text x="406.2" y="662.2" textLength="166.1" lengthAdjust="spacingAndGlyphs">Atemhilfsmuskulatur</text>
<text x="570.1" y="868.9" textLength="215.6" lengthAdjust="spacingAndGlyphs">Innere Interkostalemuskeln</text>
<text x="711.7" y="1012.6" textLength="222.1" lengthAdjust="spacingAndGlyphs">Äußere Interkostalemuskeln</text>
<text x="971.7" y="1014" textLength="95.7" lengthAdjust="spacingAndGlyphs">Diaphragma</text>
</g>
</svg>
</body></html>
